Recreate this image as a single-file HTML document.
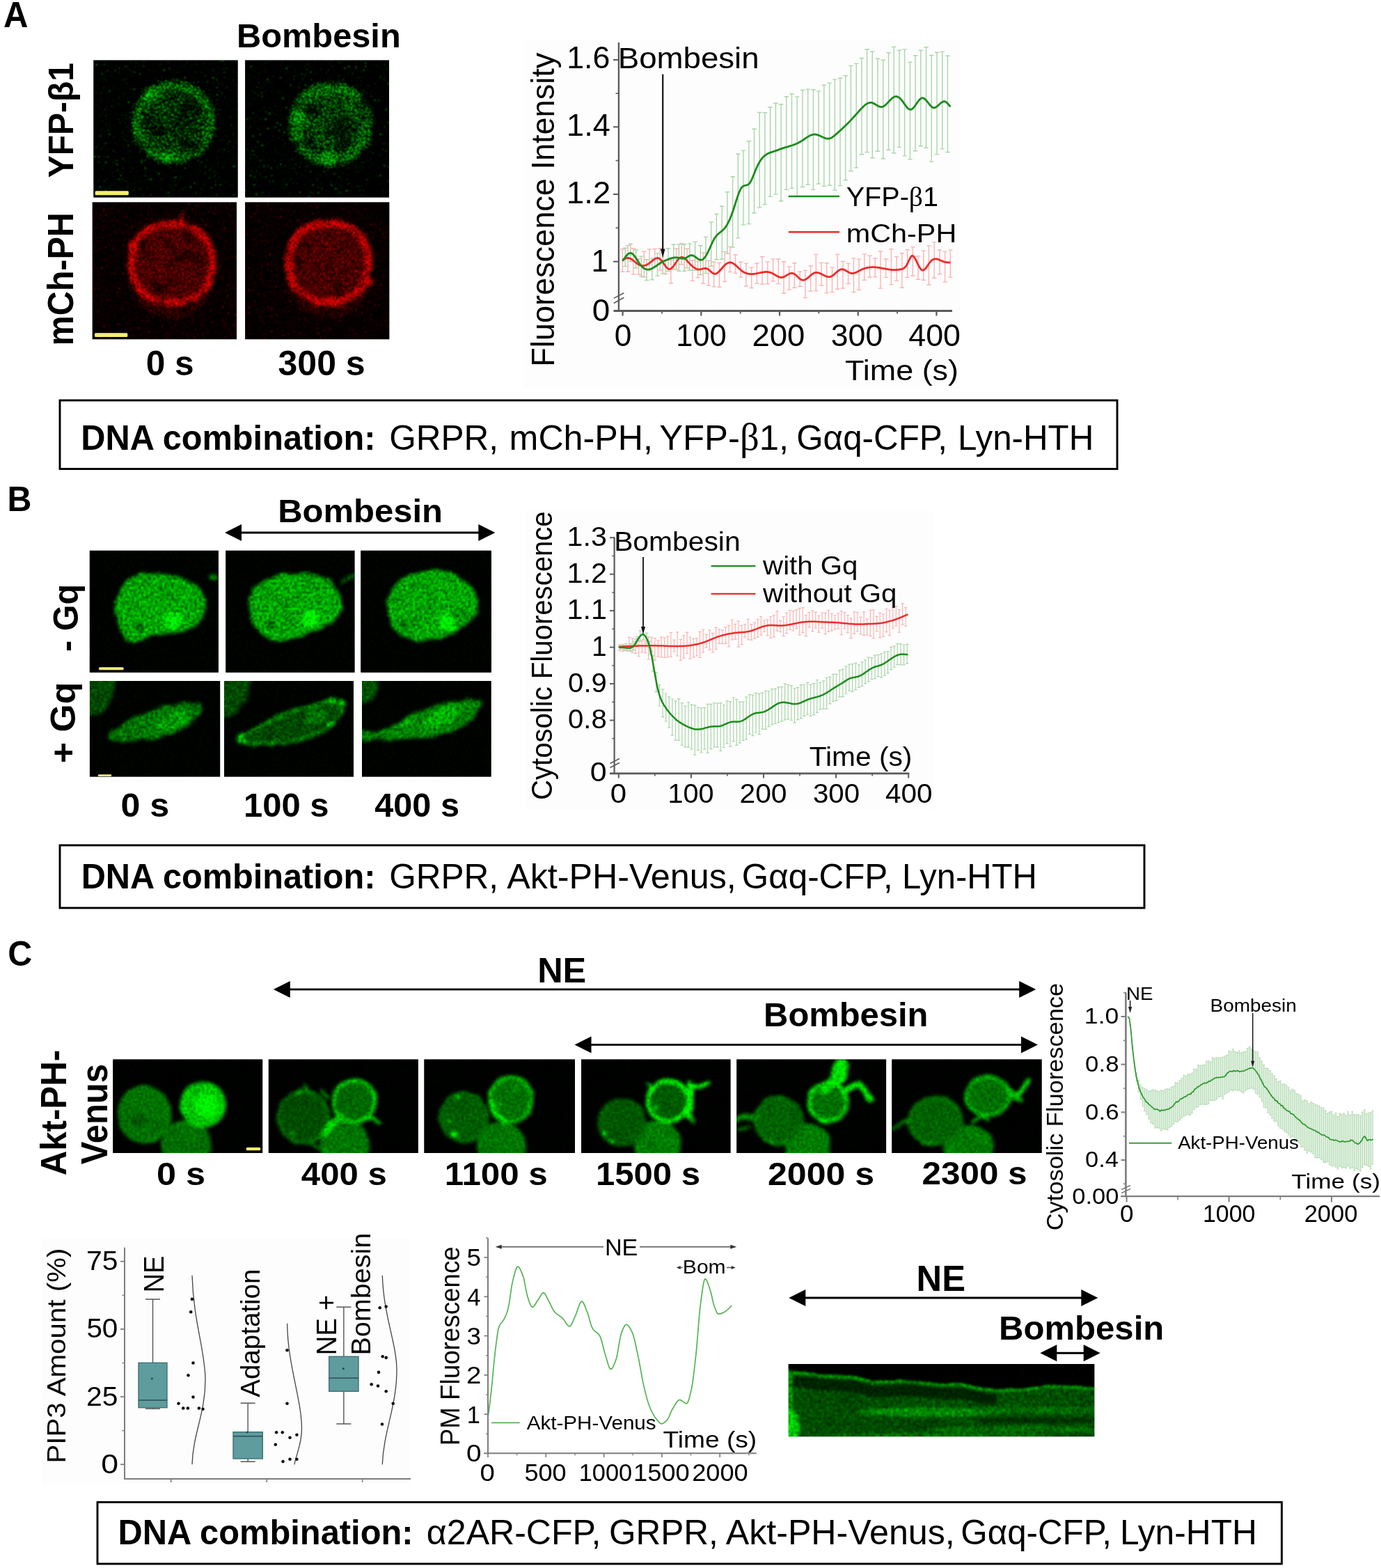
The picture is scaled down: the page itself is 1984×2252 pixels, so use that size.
<!DOCTYPE html>
<html lang="en"><head><meta charset="utf-8"><title>Figure</title>
<style>
html,body{margin:0;padding:0;background:#fff;}
body{width:1984px;height:2252px;overflow:hidden;font-family:"Liberation Sans",sans-serif;}
svg{display:block;}
text{white-space:pre;}
</style></head><body>
<svg width="1984" height="2252" viewBox="0 0 1984 2252">
<rect width="1984" height="2252" fill="#fff"/>
<!-- micro -->
<defs><filter id="fSpk" x="0" y="0" width="1" height="1" color-interpolation-filters="sRGB">
 <feGaussianBlur in="SourceGraphic" stdDeviation="5" result="b0"/>
 <feTurbulence type="fractalNoise" baseFrequency="0.035" numOctaves="2" seed="57" result="nl"/>
 <feColorMatrix in="nl" type="matrix" values="0.6 0 0 0 0.7  0.6 0 0 0 0.7  0.6 0 0 0 0.7  0 0 0 0 1" result="gl"/>
 <feComposite in="b0" in2="gl" operator="arithmetic" k1="1" k2="0" k3="0" k4="0" result="b"/>
 <feTurbulence type="fractalNoise" baseFrequency="0.45" numOctaves="2" seed="7" result="n"/>
 <feColorMatrix in="n" type="matrix" values="1.0 0 0 0 0.0  1.0 0 0 0 0.0  1.0 0 0 0 0.0  0 0 0 0 1" result="g"/>
 <feComposite in="b" in2="g" operator="arithmetic" k1="9" k2="0" k3="0" k4="-3.3" result="m"/>
 <feTurbulence type="fractalNoise" baseFrequency="0.37" numOctaves="1" seed="18" result="n2"/>
 <feColorMatrix in="n2" type="matrix" values="0 0 0 0 0  10 0 0 0 -6.9  0 0 0 0 0  0 0 0 0 1" result="d"/>
 <feComposite in="m" in2="d" operator="arithmetic" k1="0" k2="1" k3="1" k4="0"/>
 <feGaussianBlur stdDeviation="0.85"/>
</filter>
<filter id="fSpk2" x="0" y="0" width="1" height="1" color-interpolation-filters="sRGB">
 <feGaussianBlur in="SourceGraphic" stdDeviation="5" result="b0"/>
 <feTurbulence type="fractalNoise" baseFrequency="0.035" numOctaves="2" seed="73" result="nl"/>
 <feColorMatrix in="nl" type="matrix" values="0.6 0 0 0 0.7  0.6 0 0 0 0.7  0.6 0 0 0 0.7  0 0 0 0 1" result="gl"/>
 <feComposite in="b0" in2="gl" operator="arithmetic" k1="1" k2="0" k3="0" k4="0" result="b"/>
 <feTurbulence type="fractalNoise" baseFrequency="0.45" numOctaves="2" seed="23" result="n"/>
 <feColorMatrix in="n" type="matrix" values="1.0 0 0 0 0.0  1.0 0 0 0 0.0  1.0 0 0 0 0.0  0 0 0 0 1" result="g"/>
 <feComposite in="b" in2="g" operator="arithmetic" k1="9" k2="0" k3="0" k4="-3.3" result="m"/>
 <feTurbulence type="fractalNoise" baseFrequency="0.37" numOctaves="1" seed="34" result="n2"/>
 <feColorMatrix in="n2" type="matrix" values="0 0 0 0 0  10 0 0 0 -6.9  0 0 0 0 0  0 0 0 0 1" result="d"/>
 <feComposite in="m" in2="d" operator="arithmetic" k1="0" k2="1" k3="1" k4="0"/>
 <feGaussianBlur stdDeviation="0.85"/>
</filter>
<filter id="fRed" x="0" y="0" width="1" height="1" color-interpolation-filters="sRGB">
 <feGaussianBlur in="SourceGraphic" stdDeviation="2.6" result="b0"/>
 <feTurbulence type="fractalNoise" baseFrequency="0.05" numOctaves="2" seed="61" result="nl"/>
 <feColorMatrix in="nl" type="matrix" values="1.3 0 0 0 0.35  1.3 0 0 0 0.35  1.3 0 0 0 0.35  0 0 0 0 1" result="gl"/>
 <feComposite in="b0" in2="gl" operator="arithmetic" k1="1" k2="0" k3="0" k4="0" result="b"/>
 <feTurbulence type="fractalNoise" baseFrequency="0.42" numOctaves="2" seed="11" result="n"/>
 <feColorMatrix in="n" type="matrix" values="2.0 0 0 0 -0.5  2.0 0 0 0 -0.5  2.0 0 0 0 -0.5  0 0 0 0 1" result="g"/>
 <feComposite in="b" in2="g" operator="arithmetic" k1="2.3" k2="0" k3="0" k4="-0.22" result="m"/>
 <feTurbulence type="fractalNoise" baseFrequency="0.37" numOctaves="1" seed="22" result="n2"/>
 <feColorMatrix in="n2" type="matrix" values="5 0 0 0 -3.3  0 0 0 0 0  0 0 0 0 0  0 0 0 0 1" result="d"/>
 <feComposite in="m" in2="d" operator="arithmetic" k1="0" k2="1" k3="1" k4="0"/>
 <feGaussianBlur stdDeviation="0.8"/>
</filter>
<filter id="fRed2" x="0" y="0" width="1" height="1" color-interpolation-filters="sRGB">
 <feGaussianBlur in="SourceGraphic" stdDeviation="2.6" result="b0"/>
 <feTurbulence type="fractalNoise" baseFrequency="0.05" numOctaves="2" seed="81" result="nl"/>
 <feColorMatrix in="nl" type="matrix" values="1.3 0 0 0 0.35  1.3 0 0 0 0.35  1.3 0 0 0 0.35  0 0 0 0 1" result="gl"/>
 <feComposite in="b0" in2="gl" operator="arithmetic" k1="1" k2="0" k3="0" k4="0" result="b"/>
 <feTurbulence type="fractalNoise" baseFrequency="0.42" numOctaves="2" seed="31" result="n"/>
 <feColorMatrix in="n" type="matrix" values="2.0 0 0 0 -0.5  2.0 0 0 0 -0.5  2.0 0 0 0 -0.5  0 0 0 0 1" result="g"/>
 <feComposite in="b" in2="g" operator="arithmetic" k1="2.3" k2="0" k3="0" k4="-0.22" result="m"/>
 <feTurbulence type="fractalNoise" baseFrequency="0.37" numOctaves="1" seed="42" result="n2"/>
 <feColorMatrix in="n2" type="matrix" values="5 0 0 0 -3.3  0 0 0 0 0  0 0 0 0 0  0 0 0 0 1" result="d"/>
 <feComposite in="m" in2="d" operator="arithmetic" k1="0" k2="1" k3="1" k4="0"/>
 <feGaussianBlur stdDeviation="0.8"/>
</filter>
<filter id="fB1" x="0" y="0" width="1" height="1" color-interpolation-filters="sRGB">
 <feTurbulence type="fractalNoise" baseFrequency="0.07" numOctaves="2" seed="6" result="dn"/>
 <feDisplacementMap in="SourceGraphic" in2="dn" scale="8" xChannelSelector="R" yChannelSelector="G" result="dsp"/>
 <feGaussianBlur in="dsp" stdDeviation="2.2" result="b0"/>
 <feTurbulence type="fractalNoise" baseFrequency="0.04" numOctaves="2" seed="53" result="nl"/>
 <feColorMatrix in="nl" type="matrix" values="0.5 0 0 0 0.75  0.5 0 0 0 0.75  0.5 0 0 0 0.75  0 0 0 0 1" result="gl"/>
 <feComposite in="b0" in2="gl" operator="arithmetic" k1="1" k2="0" k3="0" k4="0" result="b"/>
 <feTurbulence type="fractalNoise" baseFrequency="0.3" numOctaves="2" seed="3" result="n"/>
 <feColorMatrix in="n" type="matrix" values="1.0 0 0 0 0.0  1.0 0 0 0 0.0  1.0 0 0 0 0.0  0 0 0 0 1" result="g"/>
 <feComposite in="b" in2="g" operator="arithmetic" k1="2.5" k2="-0.12" k3="0" k4="-0.05"/>
 <feGaussianBlur stdDeviation="0.8"/>
</filter>
<filter id="fB2" x="0" y="0" width="1" height="1" color-interpolation-filters="sRGB">
 <feTurbulence type="fractalNoise" baseFrequency="0.07" numOctaves="2" seed="8" result="dn"/>
 <feDisplacementMap in="SourceGraphic" in2="dn" scale="8" xChannelSelector="R" yChannelSelector="G" result="dsp"/>
 <feGaussianBlur in="dsp" stdDeviation="2.2" result="b0"/>
 <feTurbulence type="fractalNoise" baseFrequency="0.04" numOctaves="2" seed="55" result="nl"/>
 <feColorMatrix in="nl" type="matrix" values="0.5 0 0 0 0.75  0.5 0 0 0 0.75  0.5 0 0 0 0.75  0 0 0 0 1" result="gl"/>
 <feComposite in="b0" in2="gl" operator="arithmetic" k1="1" k2="0" k3="0" k4="0" result="b"/>
 <feTurbulence type="fractalNoise" baseFrequency="0.3" numOctaves="2" seed="5" result="n"/>
 <feColorMatrix in="n" type="matrix" values="1.0 0 0 0 0.0  1.0 0 0 0 0.0  1.0 0 0 0 0.0  0 0 0 0 1" result="g"/>
 <feComposite in="b" in2="g" operator="arithmetic" k1="2.5" k2="-0.12" k3="0" k4="-0.05"/>
 <feGaussianBlur stdDeviation="0.8"/>
</filter>
<filter id="fB3" x="0" y="0" width="1" height="1" color-interpolation-filters="sRGB">
 <feTurbulence type="fractalNoise" baseFrequency="0.07" numOctaves="2" seed="12" result="dn"/>
 <feDisplacementMap in="SourceGraphic" in2="dn" scale="8" xChannelSelector="R" yChannelSelector="G" result="dsp"/>
 <feGaussianBlur in="dsp" stdDeviation="2.2" result="b0"/>
 <feTurbulence type="fractalNoise" baseFrequency="0.04" numOctaves="2" seed="59" result="nl"/>
 <feColorMatrix in="nl" type="matrix" values="0.5 0 0 0 0.75  0.5 0 0 0 0.75  0.5 0 0 0 0.75  0 0 0 0 1" result="gl"/>
 <feComposite in="b0" in2="gl" operator="arithmetic" k1="1" k2="0" k3="0" k4="0" result="b"/>
 <feTurbulence type="fractalNoise" baseFrequency="0.3" numOctaves="2" seed="9" result="n"/>
 <feColorMatrix in="n" type="matrix" values="1.0 0 0 0 0.0  1.0 0 0 0 0.0  1.0 0 0 0 0.0  0 0 0 0 1" result="g"/>
 <feComposite in="b" in2="g" operator="arithmetic" k1="2.5" k2="-0.12" k3="0" k4="-0.05"/>
 <feGaussianBlur stdDeviation="0.8"/>
</filter>
<filter id="fC1" x="0" y="0" width="1" height="1" color-interpolation-filters="sRGB">
 <feTurbulence type="fractalNoise" baseFrequency="0.07" numOctaves="2" seed="16" result="dn"/>
 <feDisplacementMap in="SourceGraphic" in2="dn" scale="5" xChannelSelector="R" yChannelSelector="G" result="dsp"/>
 <feGaussianBlur in="dsp" stdDeviation="2.0" result="b0"/>
 <feTurbulence type="fractalNoise" baseFrequency="0.03" numOctaves="2" seed="63" result="nl"/>
 <feColorMatrix in="nl" type="matrix" values="0.35 0 0 0 0.825  0.35 0 0 0 0.825  0.35 0 0 0 0.825  0 0 0 0 1" result="gl"/>
 <feComposite in="b0" in2="gl" operator="arithmetic" k1="1" k2="0" k3="0" k4="0" result="b"/>
 <feTurbulence type="fractalNoise" baseFrequency="0.33" numOctaves="2" seed="13" result="n"/>
 <feColorMatrix in="n" type="matrix" values="1.0 0 0 0 0.0  1.0 0 0 0 0.0  1.0 0 0 0 0.0  0 0 0 0 1" result="g"/>
 <feComposite in="b" in2="g" operator="arithmetic" k1="1.5" k2="0.33" k3="0" k4="-0.05"/>
 <feGaussianBlur stdDeviation="0.9"/>
</filter>
<filter id="fC2" x="0" y="0" width="1" height="1" color-interpolation-filters="sRGB">
 <feTurbulence type="fractalNoise" baseFrequency="0.07" numOctaves="2" seed="20" result="dn"/>
 <feDisplacementMap in="SourceGraphic" in2="dn" scale="5" xChannelSelector="R" yChannelSelector="G" result="dsp"/>
 <feGaussianBlur in="dsp" stdDeviation="2.0" result="b0"/>
 <feTurbulence type="fractalNoise" baseFrequency="0.03" numOctaves="2" seed="67" result="nl"/>
 <feColorMatrix in="nl" type="matrix" values="0.35 0 0 0 0.825  0.35 0 0 0 0.825  0.35 0 0 0 0.825  0 0 0 0 1" result="gl"/>
 <feComposite in="b0" in2="gl" operator="arithmetic" k1="1" k2="0" k3="0" k4="0" result="b"/>
 <feTurbulence type="fractalNoise" baseFrequency="0.33" numOctaves="2" seed="17" result="n"/>
 <feColorMatrix in="n" type="matrix" values="1.0 0 0 0 0.0  1.0 0 0 0 0.0  1.0 0 0 0 0.0  0 0 0 0 1" result="g"/>
 <feComposite in="b" in2="g" operator="arithmetic" k1="1.5" k2="0.33" k3="0" k4="-0.05"/>
 <feGaussianBlur stdDeviation="0.9"/>
</filter>
<filter id="fC3" x="0" y="0" width="1" height="1" color-interpolation-filters="sRGB">
 <feTurbulence type="fractalNoise" baseFrequency="0.07" numOctaves="2" seed="22" result="dn"/>
 <feDisplacementMap in="SourceGraphic" in2="dn" scale="5" xChannelSelector="R" yChannelSelector="G" result="dsp"/>
 <feGaussianBlur in="dsp" stdDeviation="2.0" result="b0"/>
 <feTurbulence type="fractalNoise" baseFrequency="0.03" numOctaves="2" seed="69" result="nl"/>
 <feColorMatrix in="nl" type="matrix" values="0.35 0 0 0 0.825  0.35 0 0 0 0.825  0.35 0 0 0 0.825  0 0 0 0 1" result="gl"/>
 <feComposite in="b0" in2="gl" operator="arithmetic" k1="1" k2="0" k3="0" k4="0" result="b"/>
 <feTurbulence type="fractalNoise" baseFrequency="0.33" numOctaves="2" seed="19" result="n"/>
 <feColorMatrix in="n" type="matrix" values="1.0 0 0 0 0.0  1.0 0 0 0 0.0  1.0 0 0 0 0.0  0 0 0 0 1" result="g"/>
 <feComposite in="b" in2="g" operator="arithmetic" k1="1.5" k2="0.33" k3="0" k4="-0.05"/>
 <feGaussianBlur stdDeviation="0.9"/>
</filter>
<filter id="fK" x="0" y="0" width="1" height="1" color-interpolation-filters="sRGB">
 <feTurbulence type="fractalNoise" baseFrequency="0.05" numOctaves="2" seed="32" result="dn"/>
 <feDisplacementMap in="SourceGraphic" in2="dn" scale="3" xChannelSelector="R" yChannelSelector="G" result="dsp"/>
 <feGaussianBlur in="dsp" stdDeviation="1.8" result="b0"/>
 <feTurbulence type="fractalNoise" baseFrequency="0.025" numOctaves="2" seed="79" result="nl"/>
 <feColorMatrix in="nl" type="matrix" values="0.5 0 0 0 0.75  0.5 0 0 0 0.75  0.5 0 0 0 0.75  0 0 0 0 1" result="gl"/>
 <feComposite in="b0" in2="gl" operator="arithmetic" k1="1" k2="0" k3="0" k4="0" result="b"/>
 <feTurbulence type="fractalNoise" baseFrequency="0.25" numOctaves="2" seed="29" result="n"/>
 <feColorMatrix in="n" type="matrix" values="1.0 0 0 0 0.0  1.0 0 0 0 0.0  1.0 0 0 0 0.0  0 0 0 0 1" result="g"/>
 <feComposite in="b" in2="g" operator="arithmetic" k1="1.7" k2="0.2" k3="0" k4="-0.04"/>
 <feGaussianBlur stdDeviation="0.8"/>
</filter></defs>
<svg x="134.4" y="86.6" width="207.2" height="197.0" viewBox="134.4 86.6 207.2 197.0" overflow="hidden"><rect x="134.4" y="86.6" width="207.2" height="197.0" fill="#000"/><g filter="url(#fSpk)"><rect x="114.4" y="66.6" width="247.2" height="237.0" fill="rgb(0,102,0)"/><circle cx="249.5" cy="176" r="63" fill="rgb(0,178,0)" /><ellipse cx="249.5" cy="176" rx="54" ry="54" fill="none" stroke="rgb(0,204,0)" stroke-width="14" opacity="1"/><circle cx="262" cy="182" r="20" fill="rgb(0,168,0)" /><circle cx="240" cy="228" r="9" fill="rgb(0,242,0)" /><circle cx="215" cy="135" r="10" fill="rgb(0,230,0)" /></g></svg>
<svg x="352.2" y="86.6" width="206.8" height="197.0" viewBox="352.2 86.6 206.8 197.0" overflow="hidden"><rect x="352.2" y="86.6" width="206.8" height="197.0" fill="#000"/><g filter="url(#fSpk2)"><rect x="332.2" y="66.6" width="246.8" height="237.0" fill="rgb(0,102,0)"/><circle cx="475.5" cy="178" r="63" fill="rgb(0,181,0)" /><ellipse cx="475.5" cy="178" rx="54" ry="54" fill="none" stroke="rgb(0,207,0)" stroke-width="15" opacity="1"/><circle cx="489" cy="186" r="19" fill="rgb(0,158,0)" /><circle cx="470" cy="228" r="10" fill="rgb(0,235,0)" /><circle cx="430" cy="165" r="10" fill="rgb(0,230,0)" /></g></svg>
<rect x="136.6" y="274.3" width="48.2" height="6.0" rx="1.5" fill="#f4ee6e"/>
<svg x="132.7" y="290.5" width="207.3" height="196.8" viewBox="132.7 290.5 207.3 196.8" overflow="hidden"><rect x="132.7" y="290.5" width="207.3" height="196.8" fill="#000"/><g filter="url(#fRed)"><rect x="112.69999999999999" y="270.5" width="247.3" height="236.8" fill="rgb(43,0,0)"/><ellipse cx="247" cy="392" rx="62" ry="66" fill="rgb(76,0,0)" /><path d="M305.0,378.0 C305.0,392.6 306.9,386.2 301.8,399.9 C296.6,413.6 300.3,408.8 289.6,419.2 C278.9,429.5 283.9,425.9 269.7,430.9 C255.5,435.8 262.1,434.0 247.0,434.0 C231.9,434.0 238.5,435.8 224.3,430.9 C210.1,425.9 215.1,429.5 204.4,419.2 C193.7,408.8 197.4,413.6 192.2,399.9 C187.1,386.2 189.0,392.6 189.0,378.0 C189.0,363.4 187.1,369.8 192.2,356.1 C197.4,342.4 193.7,347.2 204.4,336.8 C215.1,326.5 210.1,330.1 224.3,325.1 C238.5,320.2 231.9,322.0 247.0,322.0 C262.1,322.0 255.5,320.2 269.7,325.1 C283.9,330.1 278.9,326.5 289.6,336.8 C300.3,347.2 296.6,342.4 301.8,356.1 C306.9,369.8 305.0,363.4 305.0,378.0Z" fill="rgb(107,0,0)" stroke="rgb(235,0,0)" stroke-width="9.5"/><path d="M258,322 L262,306" fill="none" stroke="rgb(204,0,0)" stroke-width="5" stroke-linecap="round" stroke-linejoin="round"/><path d="M188,350 L190,395" fill="none" stroke="rgb(255,0,0)" stroke-width="6" stroke-linecap="round" stroke-linejoin="round"/><path d="M225,434 L260,436" fill="none" stroke="rgb(255,0,0)" stroke-width="6" stroke-linecap="round" stroke-linejoin="round"/></g></svg>
<svg x="352.2" y="290.5" width="207.1" height="196.8" viewBox="352.2 290.5 207.1 196.8" overflow="hidden"><rect x="352.2" y="290.5" width="207.1" height="196.8" fill="#000"/><g filter="url(#fRed2)"><rect x="332.2" y="270.5" width="247.1" height="236.8" fill="rgb(43,0,0)"/><ellipse cx="472" cy="392" rx="62" ry="66" fill="rgb(76,0,0)" /><path d="M529.0,377.0 C529.0,391.6 530.9,385.2 525.8,398.9 C520.8,412.6 524.4,407.8 513.9,418.2 C503.4,428.5 508.3,424.9 494.3,429.9 C480.3,434.8 486.9,433.0 472.0,433.0 C457.1,433.0 463.7,434.8 449.7,429.9 C435.7,424.9 440.6,428.5 430.1,418.2 C419.6,407.8 423.2,412.6 418.2,398.9 C413.1,385.2 415.0,391.6 415.0,377.0 C415.0,362.4 413.1,368.8 418.2,355.1 C423.2,341.4 419.6,346.2 430.1,335.8 C440.6,325.5 435.7,329.1 449.7,324.1 C463.7,319.2 457.1,321.0 472.0,321.0 C486.9,321.0 480.3,319.2 494.3,324.1 C508.3,329.1 503.4,325.5 513.9,335.8 C524.4,346.2 520.8,341.4 525.8,355.1 C530.9,368.8 529.0,362.4 529.0,377.0Z" fill="rgb(107,0,0)" stroke="rgb(235,0,0)" stroke-width="10.5"/><path d="M413,365 L416,400" fill="none" stroke="rgb(255,0,0)" stroke-width="7" stroke-linecap="round" stroke-linejoin="round"/><path d="M455,435 L490,436" fill="none" stroke="rgb(255,0,0)" stroke-width="7" stroke-linecap="round" stroke-linejoin="round"/><path d="M470,319 L500,326" fill="none" stroke="rgb(255,0,0)" stroke-width="6" stroke-linecap="round" stroke-linejoin="round"/><circle cx="530" cy="404" r="6" fill="rgb(255,0,0)" /></g></svg>
<rect x="136" y="478.3" width="47.3" height="5.7" rx="1.5" fill="#f4ee6e"/>
<svg x="128.8" y="790.7" width="185.0" height="175.1" viewBox="128.8 790.7 185.0 175.1" overflow="hidden"><rect x="128.8" y="790.7" width="185.0" height="175.1" fill="#000"/><g filter="url(#fB1)"><rect x="108.80000000000001" y="770.7" width="225.0" height="215.1" fill="rgb(0,13,0)"/><path d="M166.6,873.5 C166.6,860.3 165.3,866.9 169.8,854.7 C174.3,842.5 170.5,846.7 180.2,837.0 C189.9,827.3 185.1,830.0 199.0,825.5 C212.9,821.0 205.7,823.1 222.0,823.4 C238.3,823.7 230.6,822.7 248.0,826.5 C265.4,830.3 260.5,827.6 274.1,834.9 C287.7,842.2 281.7,839.1 288.7,848.5 C295.7,857.9 293.9,851.9 295.0,863.0 C296.1,874.1 295.4,871.4 291.9,881.9 C288.4,892.4 291.2,887.5 284.6,894.4 C278.0,901.3 282.4,898.2 272.0,902.7 C261.6,907.2 266.5,905.6 253.3,908.0 C240.1,910.4 246.3,907.6 232.4,910.0 C218.5,912.4 225.4,911.3 211.5,915.3 C197.6,919.3 202.1,922.7 190.6,922.0 C179.1,921.3 183.9,922.4 177.0,913.2 C170.1,904.0 173.3,907.6 169.8,894.4 C166.3,881.2 166.6,886.7 166.6,873.5Z" fill="rgb(0,158,0)"/><circle cx="248" cy="891.5" r="12" fill="rgb(0,255,0)" /><circle cx="200" cy="900" r="6" fill="rgb(0,89,0)" /><ellipse cx="306" cy="828.6" rx="6" ry="3.5" fill="rgb(0,153,0)" /></g></svg>
<svg x="324.3" y="790.7" width="185.2" height="175.1" viewBox="324.3 790.7 185.2 175.1" overflow="hidden"><rect x="324.3" y="790.7" width="185.2" height="175.1" fill="#000"/><g filter="url(#fB2)"><rect x="304.3" y="770.7" width="225.2" height="215.1" fill="rgb(0,13,0)"/><path d="M358.0,870.0 C357.0,854.2 356.3,861.0 362.0,850.0 C367.7,839.0 364.0,844.3 375.0,837.0 C386.0,829.7 380.0,832.4 395.0,828.0 C410.0,823.6 398.3,824.0 420.0,823.8 C441.7,823.6 439.2,820.4 460.0,827.5 C480.8,834.6 472.5,832.5 482.5,845.0 C492.5,857.5 488.5,853.3 490.0,865.0 C491.5,876.7 490.3,871.7 487.0,880.0 C483.7,888.3 487.0,883.3 480.0,890.0 C473.0,896.7 476.0,894.2 466.0,900.0 C456.0,905.8 461.3,902.8 450.0,907.5 C438.7,912.2 444.5,909.5 432.0,914.0 C419.5,918.5 424.8,919.0 412.5,921.0 C400.2,923.0 405.0,921.7 395.0,920.0 C385.0,918.3 392.5,923.5 382.5,916.0 C372.5,908.5 373.2,912.8 365.0,897.5 C356.8,882.2 359.0,885.8 358.0,870.0Z" fill="rgb(0,158,0)"/><circle cx="447.5" cy="890" r="12" fill="rgb(0,255,0)" /><circle cx="390" cy="897.5" r="6" fill="rgb(0,89,0)" /><path d="M489,837 L500,830 L510,826" fill="none" stroke="rgb(0,102,0)" stroke-width="4" stroke-linecap="round" stroke-linejoin="round"/></g></svg>
<svg x="518.3" y="790.7" width="187.5" height="175.1" viewBox="518.3 790.7 187.5 175.1" overflow="hidden"><rect x="518.3" y="790.7" width="187.5" height="175.1" fill="#000"/><g filter="url(#fB3)"><rect x="498.29999999999995" y="770.7" width="227.5" height="215.1" fill="rgb(0,13,0)"/><path d="M557.5,865.0 C558.5,855.0 556.8,859.0 561.0,850.0 C565.2,841.0 562.3,845.3 570.0,838.0 C577.7,830.7 574.0,833.2 584.0,828.0 C594.0,822.8 583.8,825.2 600.0,822.5 C616.2,819.8 610.8,816.7 632.5,820.0 C654.2,823.3 648.3,821.7 665.0,832.5 C681.7,843.3 675.8,838.3 682.5,852.5 C689.2,866.7 685.8,863.2 685.0,875.0 C684.2,886.8 685.0,880.5 680.0,888.0 C675.0,895.5 677.3,891.5 670.0,897.5 C662.7,903.5 666.3,901.0 658.0,906.0 C649.7,911.0 660.2,907.8 645.0,912.5 C629.8,917.2 634.2,919.2 612.5,920.0 C590.8,920.8 594.8,919.7 580.0,915.0 C565.2,910.3 573.8,912.7 568.0,906.0 C562.2,899.3 565.8,903.7 562.5,895.0 C559.2,886.3 559.7,890.0 558.0,880.0 C556.3,870.0 556.5,875.0 557.5,865.0Z" fill="rgb(0,158,0)"/><circle cx="642.5" cy="894" r="12" fill="rgb(0,250,0)" /><circle cx="578" cy="897" r="6" fill="rgb(0,97,0)" /></g></svg>
<rect x="142" y="958.2" width="35.7" height="4.0" rx="1.5" fill="#f4ee6e"/>
<svg x="128.9" y="978" width="187.3" height="137.6" viewBox="128.9 978 187.3 137.6" overflow="hidden"><rect x="128.9" y="978" width="187.3" height="137.6" fill="#000"/><g filter="url(#fB1)"><rect x="108.9" y="958" width="227.3" height="177.6" fill="rgb(0,13,0)"/><path d="M156.2,1057.3 C158.9,1052.0 162.6,1051.0 172.0,1044.0 C181.4,1037.0 177.4,1038.2 191.3,1031.1 C205.2,1024.0 206.6,1022.7 224.0,1017.3 C241.4,1011.9 240.9,1013.1 256.6,1010.7 C272.3,1008.3 274.0,1006.8 282.7,1008.3 C291.4,1009.8 289.6,1009.9 289.2,1016.4 C288.8,1022.9 287.6,1025.0 281.1,1032.8 C274.6,1040.6 275.7,1039.7 264.8,1045.8 C253.9,1051.9 253.4,1051.3 240.3,1055.6 C227.2,1059.9 231.1,1059.9 215.8,1062.1 C200.5,1064.3 197.5,1063.3 183.1,1063.8 C168.7,1064.3 169.1,1065.5 161.9,1063.8 C154.7,1062.1 153.5,1062.6 156.2,1057.3Z" fill="rgb(0,115,0)"/><ellipse cx="246" cy="1036" rx="26" ry="12" fill="rgb(0,158,0)" transform="rotate(-22 246 1036)" /><ellipse cx="128" cy="978" rx="37" ry="50" fill="rgb(0,76,0)" /></g></svg>
<svg x="322" y="978" width="186.0" height="137.6" viewBox="322 978 186.0 137.6" overflow="hidden"><rect x="322" y="978" width="186.0" height="137.6" fill="#000"/><g filter="url(#fB2)"><rect x="302" y="958" width="226.0" height="177.6" fill="rgb(0,13,0)"/><path d="M341.2,1059.3 C344.1,1054.9 347.3,1057.0 359.8,1050.6 C372.3,1044.2 373.6,1042.9 388.2,1035.3 C402.8,1027.7 398.6,1027.6 414.4,1022.1 C430.2,1016.6 431.0,1018.6 447.3,1014.5 C463.6,1010.4 463.5,1007.7 475.7,1006.8 C487.9,1005.9 490.3,1005.4 493.2,1011.2 C496.1,1017.0 493.0,1019.4 486.6,1028.7 C480.2,1038.0 479.6,1038.6 469.1,1046.2 C458.6,1053.8 460.1,1052.1 447.3,1057.1 C434.5,1062.1 438.5,1061.9 421.0,1064.8 C403.5,1067.7 400.9,1067.5 381.6,1068.1 C362.3,1068.7 359.6,1069.3 348.8,1067.0 C338.0,1064.7 338.3,1063.7 341.2,1059.3Z" fill="rgb(0,76,0)" stroke="rgb(0,158,0)" stroke-width="3.5"/><ellipse cx="452" cy="1030" rx="18" ry="10" fill="rgb(0,115,0)" transform="rotate(-22 452 1030)" /><circle cx="347" cy="1061" r="5" fill="rgb(0,178,0)" /><circle cx="478" cy="1008" r="4" fill="rgb(0,204,0)" /><circle cx="490" cy="1012" r="3.5" fill="rgb(0,204,0)" /><circle cx="474" cy="1040" r="4" fill="rgb(0,204,0)" /><ellipse cx="322" cy="978" rx="38" ry="52" fill="rgb(0,76,0)" /></g></svg>
<svg x="520" y="978" width="185.6" height="137.6" viewBox="520 978 185.6 137.6" overflow="hidden"><rect x="520" y="978" width="185.6" height="137.6" fill="#000"/><g filter="url(#fB3)"><rect x="500" y="958" width="225.6" height="177.6" fill="rgb(0,13,0)"/><path d="M512.0,1050.6 C521.0,1047.4 528.0,1055.3 545.7,1050.6 C563.4,1045.9 561.0,1041.8 578.5,1033.1 C596.0,1024.4 593.8,1024.2 611.3,1017.8 C628.8,1011.4 624.4,1012.5 644.2,1009.0 C664.0,1005.5 672.9,1004.0 685.7,1004.6 C698.5,1005.2 692.9,1005.4 692.3,1011.2 C691.7,1017.0 690.5,1018.3 683.5,1026.5 C676.5,1034.7 679.4,1034.2 666.0,1041.8 C652.6,1049.4 653.6,1049.6 633.2,1054.9 C612.8,1060.2 612.8,1059.7 589.5,1061.5 C566.2,1063.3 566.4,1061.2 545.7,1061.5 C525.0,1061.8 521.0,1065.5 512.0,1062.6 C503.0,1059.7 503.0,1053.8 512.0,1050.6Z" fill="rgb(0,128,0)"/><ellipse cx="632" cy="1030" rx="30" ry="11" fill="rgb(0,168,0)" transform="rotate(-22 632 1030)" /><ellipse cx="585" cy="1036" rx="12" ry="6" fill="rgb(0,158,0)" transform="rotate(-25 585 1036)" /><ellipse cx="520" cy="976" rx="25" ry="34" fill="rgb(0,84,0)" /></g></svg>
<rect x="140.7" y="1112.3" width="19.6" height="2.7" rx="1.5" fill="#f4ee6e"/>
<!-- micro2 -->
<svg x="162.3" y="1521.6" width="214.9" height="134.5" viewBox="162.3 1521.6 214.9 134.5" overflow="hidden"><rect x="162.3" y="1521.6" width="214.9" height="134.5" fill="#000"/><g filter="url(#fC1)"><rect x="142.3" y="1501.6" width="254.9" height="174.5" fill="rgb(0,13,0)"/><circle cx="267.4" cy="1643.5" r="36" fill="rgb(0,117,0)" /><ellipse cx="207.4" cy="1600.7" rx="38.5" ry="41.5" fill="rgb(0,117,0)" /><ellipse cx="207.4" cy="1600.7" rx="36" ry="39" fill="none" stroke="rgb(0,140,0)" stroke-width="4" opacity="0.6"/><circle cx="200" cy="1610" r="10" fill="rgb(0,92,0)" /><circle cx="291.7" cy="1586.6" r="33" fill="rgb(0,199,0)" /><circle cx="296" cy="1589" r="17" fill="rgb(0,250,0)" /></g></svg>
<rect x="353.7" y="1648" width="20.5" height="4.3" rx="1.5" fill="#f4ee6e"/>
<svg x="385.8" y="1521.6" width="214.9" height="134.5" viewBox="385.8 1521.6 214.9 134.5" overflow="hidden"><rect x="385.8" y="1521.6" width="214.9" height="134.5" fill="#000"/><g filter="url(#fC2)"><rect x="365.8" y="1501.6" width="254.9" height="174.5" fill="rgb(0,13,0)"/><circle cx="494.7" cy="1643.5" r="36" fill="rgb(0,120,0)" /><ellipse cx="436" cy="1604.5" rx="38" ry="39" fill="rgb(0,82,0)" /><ellipse cx="436" cy="1604.5" rx="36" ry="37.5" fill="none" stroke="rgb(0,128,0)" stroke-width="3.5" opacity="1"/><circle cx="508.8" cy="1581.5" r="30" fill="rgb(0,107,0)" /><ellipse cx="508.8" cy="1581.5" rx="30" ry="30" fill="none" stroke="rgb(0,217,0)" stroke-width="5" opacity="1"/><path d="M466,1628 L476,1614 L490,1604" fill="none" stroke="rgb(0,217,0)" stroke-width="10" stroke-linecap="round" stroke-linejoin="round"/><path d="M520,1606 L535,1606 L545,1613" fill="none" stroke="rgb(0,217,0)" stroke-width="4.5" stroke-linecap="round" stroke-linejoin="round"/><path d="M438,1558 L446,1572" fill="none" stroke="rgb(0,140,0)" stroke-width="4" stroke-linecap="round" stroke-linejoin="round"/><path d="M462,1566 L470,1576" fill="none" stroke="rgb(0,153,0)" stroke-width="4.5" stroke-linecap="round" stroke-linejoin="round"/><path d="M445,1640 L460,1650 L475,1655" fill="none" stroke="rgb(0,140,0)" stroke-width="4" stroke-linecap="round" stroke-linejoin="round"/><circle cx="430" cy="1570" r="2.5" fill="rgb(0,230,0)" /><circle cx="420" cy="1628" r="2.5" fill="rgb(0,230,0)" /><circle cx="455" cy="1634" r="2" fill="rgb(0,178,0)" /></g></svg>
<svg x="609.4" y="1521.6" width="216.6" height="134.5" viewBox="609.4 1521.6 216.6 134.5" overflow="hidden"><rect x="609.4" y="1521.6" width="216.6" height="134.5" fill="#000"/><g filter="url(#fC3)"><rect x="589.4" y="1501.6" width="256.6" height="174.5" fill="rgb(0,13,0)"/><circle cx="720" cy="1645.4" r="35" fill="rgb(0,122,0)" /><ellipse cx="666.4" cy="1604.5" rx="36" ry="37" fill="rgb(0,97,0)" /><ellipse cx="666.4" cy="1604.5" rx="34" ry="35" fill="none" stroke="rgb(0,122,0)" stroke-width="3" opacity="1"/><ellipse cx="734" cy="1579" rx="30" ry="32" fill="rgb(0,115,0)" /><ellipse cx="734" cy="1579" rx="30" ry="32" fill="none" stroke="rgb(0,199,0)" stroke-width="5" opacity="1"/><path d="M704,1582 L712,1600 L726,1612" fill="none" stroke="rgb(0,217,0)" stroke-width="7" stroke-linecap="round" stroke-linejoin="round"/><circle cx="657.5" cy="1576.4" r="3" fill="rgb(0,230,0)" /><circle cx="652.4" cy="1629" r="4.5" fill="rgb(0,255,0)" /><circle cx="718" cy="1586" r="3" fill="rgb(0,217,0)" /><circle cx="740" cy="1562" r="2.5" fill="rgb(0,204,0)" /><circle cx="645" cy="1610" r="2.5" fill="rgb(0,178,0)" /></g></svg>
<svg x="835" y="1521.6" width="214.5" height="134.5" viewBox="835 1521.6 214.5 134.5" overflow="hidden"><rect x="835" y="1521.6" width="214.5" height="134.5" fill="#000"/><g filter="url(#fC1)"><rect x="815" y="1501.6" width="254.5" height="174.5" fill="rgb(0,13,0)"/><circle cx="944.8" cy="1643.5" r="34" fill="rgb(0,128,0)" /><ellipse cx="893.7" cy="1612" rx="34.5" ry="35" fill="rgb(0,92,0)" /><ellipse cx="893.7" cy="1612" rx="32" ry="33" fill="none" stroke="rgb(0,107,0)" stroke-width="3" opacity="1"/><ellipse cx="960" cy="1581.5" rx="29" ry="28" fill="rgb(0,97,0)" /><ellipse cx="960" cy="1581.5" rx="29.5" ry="28.5" fill="none" stroke="rgb(0,250,0)" stroke-width="6" opacity="1"/><path d="M991,1557 L993,1580 L990,1605" fill="none" stroke="rgb(0,255,0)" stroke-width="7" stroke-linecap="round" stroke-linejoin="round"/><path d="M992,1562 L1006,1559 L1018,1556" fill="none" stroke="rgb(0,255,0)" stroke-width="5.5" stroke-linecap="round" stroke-linejoin="round"/><path d="M990,1600 L996,1612" fill="none" stroke="rgb(0,230,0)" stroke-width="4" stroke-linecap="round" stroke-linejoin="round"/><path d="M931,1557 L938,1560" fill="none" stroke="rgb(0,230,0)" stroke-width="4" stroke-linecap="round" stroke-linejoin="round"/><circle cx="868" cy="1627.5" r="3" fill="rgb(0,230,0)" /><circle cx="878.4" cy="1639" r="3.5" fill="rgb(0,230,0)" /><circle cx="942" cy="1591" r="3" fill="rgb(0,217,0)" /></g></svg>
<svg x="1058.3" y="1521.6" width="214.8" height="134.5" viewBox="1058.3 1521.6 214.8 134.5" overflow="hidden"><rect x="1058.3" y="1521.6" width="214.8" height="134.5" fill="#000"/><g filter="url(#fC2)"><rect x="1038.3" y="1501.6" width="254.8" height="174.5" fill="rgb(0,13,0)"/><circle cx="1160" cy="1646" r="33" fill="rgb(0,128,0)" /><ellipse cx="1119" cy="1609.6" rx="36" ry="36" fill="rgb(0,102,0)" /><ellipse cx="1119" cy="1609.6" rx="33" ry="34" fill="none" stroke="rgb(0,128,0)" stroke-width="3" opacity="1"/><path d="M1058,1607 L1072,1603 L1086,1605" fill="none" stroke="rgb(0,140,0)" stroke-width="9" stroke-linecap="round" stroke-linejoin="round"/><path d="M1060,1622 L1075,1618" fill="none" stroke="rgb(0,115,0)" stroke-width="4" stroke-linecap="round" stroke-linejoin="round"/><circle cx="1189.3" cy="1582.8" r="27" fill="rgb(0,115,0)" /><ellipse cx="1189.3" cy="1582.8" rx="27" ry="27" fill="none" stroke="rgb(0,217,0)" stroke-width="6" opacity="1"/><ellipse cx="1206" cy="1540" rx="12" ry="20" fill="rgb(0,230,0)" transform="rotate(15 1206 1540)" /><path d="M1183,1566 L1200,1548" fill="none" stroke="rgb(0,224,0)" stroke-width="12" stroke-linecap="round" stroke-linejoin="round"/><path d="M1212,1568 L1232,1557 L1242,1566 L1250,1578" fill="none" stroke="rgb(0,235,0)" stroke-width="8.5" stroke-linecap="round" stroke-linejoin="round"/><path d="M1180,1608 L1188,1612" fill="none" stroke="rgb(0,242,0)" stroke-width="6" stroke-linecap="round" stroke-linejoin="round"/><circle cx="1108" cy="1641" r="3" fill="rgb(0,217,0)" /><circle cx="1125" cy="1640" r="2.5" fill="rgb(0,191,0)" /></g></svg>
<svg x="1281.3" y="1521.6" width="215.3" height="134.5" viewBox="1281.3 1521.6 215.3 134.5" overflow="hidden"><rect x="1281.3" y="1521.6" width="215.3" height="134.5" fill="#000"/><g filter="url(#fC3)"><rect x="1261.3" y="1501.6" width="255.3" height="174.5" fill="rgb(0,13,0)"/><ellipse cx="1392" cy="1648" rx="36" ry="32" fill="rgb(0,128,0)" /><ellipse cx="1343.8" cy="1609.6" rx="40" ry="36" fill="rgb(0,102,0)" /><ellipse cx="1343.8" cy="1609.6" rx="37.5" ry="33.5" fill="none" stroke="rgb(0,128,0)" stroke-width="3" opacity="1"/><path d="M1283,1622 L1295,1612 L1306,1610" fill="none" stroke="rgb(0,140,0)" stroke-width="4" stroke-linecap="round" stroke-linejoin="round"/><ellipse cx="1419.2" cy="1573.9" rx="31" ry="27.5" fill="rgb(0,115,0)" /><ellipse cx="1419.2" cy="1573.9" rx="31" ry="27.5" fill="none" stroke="rgb(0,184,0)" stroke-width="5" opacity="1"/><path d="M1450,1566 L1462,1572 L1472,1562 L1477,1550" fill="none" stroke="rgb(0,230,0)" stroke-width="6" stroke-linecap="round" stroke-linejoin="round"/><path d="M1452,1575 L1466,1580" fill="none" stroke="rgb(0,217,0)" stroke-width="5" stroke-linecap="round" stroke-linejoin="round"/><path d="M1396,1612 L1410,1604 L1420,1608" fill="none" stroke="rgb(0,191,0)" stroke-width="4" stroke-linecap="round" stroke-linejoin="round"/><path d="M1325,1642 L1340,1641" fill="none" stroke="rgb(0,166,0)" stroke-width="4" stroke-linecap="round" stroke-linejoin="round"/></g></svg>
<svg x="1132.7" y="1959" width="439.6" height="104.3" viewBox="1132.7 1959 439.6 104.3" overflow="hidden"><rect x="1132.7" y="1959" width="439.6" height="104.3" fill="#000"/><g filter="url(#fK)"><rect x="1112.7" y="1939" width="479.6" height="144.3" fill="rgb(0,10,0)"/><path d="M1130,1969 L1150,1971 L1176,1975.5 L1227,1978 L1252.7,1984.5 L1303.8,1984.5 L1355,1988.3 L1380.4,1988.3 L1406,1993.4 L1431.5,1997.3 L1469.8,1996 L1508,1990.9 L1533.7,1992 L1575,1994.7 L1575,2066 L1130,2066 Z" fill="rgb(0,84,0)"/><path d="M1130,1982 L1150,1984 L1176,1988.5 L1227,1991 L1252.7,1997.5 L1303.8,1997.5 L1355,2001.3 L1380.4,2001.3 L1406,2006.4 L1431.5,2010.3" fill="none" stroke="rgb(0,43,0)" stroke-width="16" stroke-linecap="butt" stroke-linejoin="round"/><path d="M1130,1969 L1150,1971 L1176,1975.5 L1227,1978 L1252.7,1984.5 L1303.8,1984.5 L1355,1988.3 L1380.4,1988.3 L1406,1993.4 L1431.5,1997.3 L1469.8,1996 L1508,1990.9 L1533.7,1992 L1575,1994.7" fill="none" stroke="rgb(0,217,0)" stroke-width="2.6" stroke-linecap="butt" stroke-linejoin="round"/><ellipse cx="1335.0" cy="2028" rx="105.0" ry="6.5" fill="rgb(0,153,0)" opacity="0.85"/><ellipse cx="1485.0" cy="2025" rx="105.0" ry="4.5" fill="rgb(0,128,0)" opacity="0.7"/><ellipse cx="1495.0" cy="2040" rx="95.0" ry="4.5" fill="rgb(0,51,0)" opacity="0.85"/><ellipse cx="1460.0" cy="2053" rx="130.0" ry="5.0" fill="rgb(0,128,0)" opacity="0.7"/><ellipse cx="1285.0" cy="2046" rx="115.0" ry="6.0" fill="rgb(0,71,0)" opacity="0.5"/><ellipse cx="1350.0" cy="2062" rx="170.0" ry="4.0" fill="rgb(0,128,0)" opacity="0.7"/><rect x="1128" y="1972" width="11" height="94" fill="rgb(0,178,0)" opacity="0.7"/><ellipse cx="1136" cy="2048" rx="13" ry="22" fill="rgb(0,230,0)" opacity="0.75"/></g></svg>
<!-- charts -->
<rect x="753.3" y="56.7" width="625.4" height="502.1" fill="#fdfdfd"/>
<path d="M894.4,357.7V390.4M891.2,357.7h6.4M891.2,390.4h6.4M902.1,352.7V390.3M898.9,352.7h6.4M898.9,390.3h6.4M909.8,356.8V393.9M906.6,356.8h6.4M906.6,393.9h6.4M917.6,371.8V394.0M914.4,371.8h6.4M914.4,394.0h6.4M925.3,361.2V398.0M922.1,361.2h6.4M922.1,398.0h6.4M933.0,358.0V387.5M929.8,358.0h6.4M929.8,387.5h6.4M940.7,357.5V383.3M937.5,357.5h6.4M937.5,383.3h6.4M948.4,356.7V388.1M945.2,356.7h6.4M945.2,388.1h6.4M956.2,373.8V393.5M953.0,373.8h6.4M953.0,393.5h6.4M963.9,373.7V406.8M960.7,373.7h6.4M960.7,406.8h6.4M971.6,357.3V386.9M968.4,357.3h6.4M968.4,386.9h6.4M979.3,349.7V379.7M976.1,349.7h6.4M976.1,379.7h6.4M987.0,357.2V384.8M983.8,357.2h6.4M983.8,384.8h6.4M994.8,373.8V403.4M991.6,373.8h6.4M991.6,403.4h6.4M1002.5,375.1V398.6M999.3,375.1h6.4M999.3,398.6h6.4M1010.2,362.9V407.2M1007.0,362.9h6.4M1007.0,407.2h6.4M1017.9,374.1V410.0M1014.7,374.1h6.4M1014.7,410.0h6.4M1025.6,376.3V411.9M1022.4,376.3h6.4M1022.4,411.9h6.4M1033.4,377.5V412.4M1030.2,377.5h6.4M1030.2,412.4h6.4M1041.1,361.6V404.4M1037.9,361.6h6.4M1037.9,404.4h6.4M1048.8,354.4V390.6M1045.6,354.4h6.4M1045.6,390.6h6.4M1056.5,366.0V392.4M1053.3,366.0h6.4M1053.3,392.4h6.4M1064.2,376.3V398.1M1061.0,376.3h6.4M1061.0,398.1h6.4M1072.0,378.4V411.0M1068.8,378.4h6.4M1068.8,411.0h6.4M1079.7,384.1V413.5M1076.5,384.1h6.4M1076.5,413.5h6.4M1087.4,378.0V407.1M1084.2,378.0h6.4M1084.2,407.1h6.4M1095.1,368.7V408.2M1091.9,368.7h6.4M1091.9,408.2h6.4M1102.8,375.9V407.8M1099.6,375.9h6.4M1099.6,407.8h6.4M1110.6,372.1V403.7M1107.4,372.1h6.4M1107.4,403.7h6.4M1118.3,372.0V407.6M1115.1,372.0h6.4M1115.1,407.6h6.4M1126.0,375.7V421.2M1122.8,375.7h6.4M1122.8,421.2h6.4M1133.7,383.1V416.1M1130.5,383.1h6.4M1130.5,416.1h6.4M1141.4,377.7V413.2M1138.2,377.7h6.4M1138.2,413.2h6.4M1149.2,390.2V411.3M1146.0,390.2h6.4M1146.0,411.3h6.4M1156.9,388.4V427.6M1153.7,388.4h6.4M1153.7,427.6h6.4M1164.6,382.0V418.4M1161.4,382.0h6.4M1161.4,418.4h6.4M1172.3,365.4V417.6M1169.1,365.4h6.4M1169.1,417.6h6.4M1180.0,377.4V410.0M1176.8,377.4h6.4M1176.8,410.0h6.4M1187.8,377.8V420.9M1184.6,377.8h6.4M1184.6,420.9h6.4M1195.5,383.9V419.6M1192.3,383.9h6.4M1192.3,419.6h6.4M1203.2,365.4V415.3M1200.0,365.4h6.4M1200.0,415.3h6.4M1210.9,375.5V414.0M1207.7,375.5h6.4M1207.7,414.0h6.4M1218.6,378.4V407.5M1215.4,378.4h6.4M1215.4,407.5h6.4M1226.4,370.9V419.5M1223.2,370.9h6.4M1223.2,419.5h6.4M1234.1,372.1V416.4M1230.9,372.1h6.4M1230.9,416.4h6.4M1241.8,364.9V402.2M1238.6,364.9h6.4M1238.6,402.2h6.4M1249.5,367.2V398.2M1246.3,367.2h6.4M1246.3,398.2h6.4M1257.2,371.3V397.6M1254.0,371.3h6.4M1254.0,397.6h6.4M1265.0,361.0V414.1M1261.8,361.0h6.4M1261.8,414.1h6.4M1272.7,372.0V398.4M1269.5,372.0h6.4M1269.5,398.4h6.4M1280.4,357.8V408.6M1277.2,357.8h6.4M1277.2,408.6h6.4M1288.1,368.6V403.4M1284.9,368.6h6.4M1284.9,403.4h6.4M1295.8,363.8V413.3M1292.6,363.8h6.4M1292.6,413.3h6.4M1303.6,358.8V398.4M1300.4,358.8h6.4M1300.4,398.4h6.4M1311.3,354.6V396.3M1308.1,354.6h6.4M1308.1,396.3h6.4M1319.0,367.9V401.3M1315.8,367.9h6.4M1315.8,401.3h6.4M1326.7,360.1V402.2M1323.5,360.1h6.4M1323.5,402.2h6.4M1334.4,352.9V409.0M1331.2,352.9h6.4M1331.2,409.0h6.4M1342.2,347.9V399.3M1339.0,347.9h6.4M1339.0,399.3h6.4M1349.9,359.3V393.8M1346.7,359.3h6.4M1346.7,393.8h6.4M1357.6,361.4V405.1M1354.4,361.4h6.4M1354.4,405.1h6.4M1365.3,359.1V398.1M1362.1,359.1h6.4M1362.1,398.1h6.4" fill="none" stroke="#f9b4b4" stroke-width="1.4" />
<path d="M898.2,356.2V382.6M895.0,356.2h6.4M895.0,382.6h6.4M905.9,350.5V375.6M902.7,350.5h6.4M902.7,375.6h6.4M913.6,358.8V384.7M910.4,358.8h6.4M910.4,384.7h6.4M921.4,368.1V397.0M918.2,368.1h6.4M918.2,397.0h6.4M929.1,372.7V402.5M925.9,372.7h6.4M925.9,402.5h6.4M936.8,371.1V401.9M933.6,371.1h6.4M933.6,401.9h6.4M944.5,363.9V396.1M941.3,363.9h6.4M941.3,396.1h6.4M952.2,359.3V393.0M949.0,359.3h6.4M949.0,393.0h6.4M960.0,356.7V389.6M956.8,356.7h6.4M956.8,389.6h6.4M967.7,351.3V386.7M964.5,351.3h6.4M964.5,386.7h6.4M975.4,350.9V389.3M972.2,350.9h6.4M972.2,389.3h6.4M983.1,351.0V389.2M979.9,351.0h6.4M979.9,389.2h6.4M990.8,349.9V388.0M987.6,349.9h6.4M987.6,388.0h6.4M998.6,347.4V388.4M995.4,347.4h6.4M995.4,388.4h6.4M1006.3,352.8V394.5M1003.1,352.8h6.4M1003.1,394.5h6.4M1014.0,340.4V392.6M1010.8,340.4h6.4M1010.8,392.6h6.4M1021.7,318.9V382.3M1018.5,318.9h6.4M1018.5,382.3h6.4M1029.4,307.5V372.8M1026.2,307.5h6.4M1026.2,372.8h6.4M1037.2,296.2V372.2M1034.0,296.2h6.4M1034.0,372.2h6.4M1044.9,275.8V364.4M1041.7,275.8h6.4M1041.7,364.4h6.4M1052.6,253.7V355.1M1049.4,253.7h6.4M1049.4,355.1h6.4M1060.3,221.3V341.9M1057.1,221.3h6.4M1057.1,341.9h6.4M1068.0,216.1V322.9M1064.8,216.1h6.4M1064.8,322.9h6.4M1075.8,202.7V321.6M1072.6,202.7h6.4M1072.6,321.6h6.4M1083.5,185.3V305.7M1080.3,185.3h6.4M1080.3,305.7h6.4M1091.2,161.5V298.1M1088.0,161.5h6.4M1088.0,298.1h6.4M1098.9,161.8V293.6M1095.7,161.8h6.4M1095.7,293.6h6.4M1106.6,154.0V282.4M1103.4,154.0h6.4M1103.4,282.4h6.4M1114.4,148.2V279.1M1111.2,148.2h6.4M1111.2,279.1h6.4M1122.1,149.7V288.7M1118.9,149.7h6.4M1118.9,288.7h6.4M1129.8,138.8V272.4M1126.6,138.8h6.4M1126.6,272.4h6.4M1137.5,134.8V270.4M1134.3,134.8h6.4M1134.3,270.4h6.4M1145.2,138.9V282.5M1142.0,138.9h6.4M1142.0,282.5h6.4M1153.0,129.5V268.5M1149.8,129.5h6.4M1149.8,268.5h6.4M1160.7,128.1V265.0M1157.5,128.1h6.4M1157.5,265.0h6.4M1168.4,128.7V272.4M1165.2,128.7h6.4M1165.2,272.4h6.4M1176.1,130.9V264.0M1172.9,130.9h6.4M1172.9,264.0h6.4M1183.8,122.2V267.4M1180.6,122.2h6.4M1180.6,267.4h6.4M1191.6,119.1V266.3M1188.4,119.1h6.4M1188.4,266.3h6.4M1199.3,114.1V273.1M1196.1,114.1h6.4M1196.1,273.1h6.4M1207.0,112.3V266.6M1203.8,112.3h6.4M1203.8,266.6h6.4M1214.7,108.7V258.7M1211.5,108.7h6.4M1211.5,258.7h6.4M1222.4,94.4V245.7M1219.2,94.4h6.4M1219.2,245.7h6.4M1230.2,91.4V240.9M1227.0,91.4h6.4M1227.0,240.9h6.4M1237.9,83.5V221.7M1234.7,83.5h6.4M1234.7,221.7h6.4M1245.6,70.7V218.6M1242.4,70.7h6.4M1242.4,218.6h6.4M1253.3,74.2V226.7M1250.1,74.2h6.4M1250.1,226.7h6.4M1261.0,84.2V217.2M1257.8,84.2h6.4M1257.8,217.2h6.4M1268.8,86.3V228.0M1265.6,86.3h6.4M1265.6,228.0h6.4M1276.5,75.8V215.2M1273.3,75.8h6.4M1273.3,215.2h6.4M1284.2,67.4V219.7M1281.0,67.4h6.4M1281.0,219.7h6.4M1291.9,72.2V211.4M1288.7,72.2h6.4M1288.7,211.4h6.4M1299.6,70.9V223.9M1296.4,70.9h6.4M1296.4,223.9h6.4M1307.4,89.4V228.9M1304.2,89.4h6.4M1304.2,228.9h6.4M1315.1,79.8V216.8M1311.9,79.8h6.4M1311.9,216.8h6.4M1322.8,72.2V209.7M1319.6,72.2h6.4M1319.6,209.7h6.4M1330.5,67.7V212.3M1327.3,67.7h6.4M1327.3,212.3h6.4M1338.2,79.5V232.1M1335.0,79.5h6.4M1335.0,232.1h6.4M1346.0,75.2V221.6M1342.8,75.2h6.4M1342.8,221.6h6.4M1353.7,74.4V213.9M1350.5,74.4h6.4M1350.5,213.9h6.4M1361.4,80.2V218.5M1358.2,80.2h6.4M1358.2,218.5h6.4" fill="none" stroke="#a9d5a9" stroke-width="1.4" />
<path d="M894.4,373.3 L895.9,372.5 L897.4,371.8 L898.9,371.2 L900.4,370.7 L901.9,370.5 L903.4,370.7 L904.9,371.1 L906.4,371.8 L907.9,372.7 L909.4,373.8 L910.9,375.0 L912.4,376.3 L913.9,377.5 L915.4,378.6 L916.9,379.7 L918.4,380.5 L919.9,381.1 L921.4,381.5 L922.9,381.7 L924.4,381.6 L925.9,381.4 L927.4,381.0 L928.9,380.4 L930.4,379.6 L931.9,378.7 L933.4,377.6 L934.9,376.4 L936.4,375.2 L937.9,373.9 L939.4,372.8 L940.9,371.8 L942.4,371.1 L943.9,370.7 L945.4,370.7 L946.9,371.2 L948.4,372.2 L949.9,373.7 L951.4,375.6 L952.9,377.7 L954.4,379.9 L955.9,381.9 L957.4,383.8 L958.9,385.3 L960.4,386.3 L961.9,386.6 L963.4,386.2 L964.9,385.1 L966.4,383.6 L967.9,381.7 L969.4,379.6 L970.9,377.3 L972.4,375.2 L973.9,373.1 L975.4,371.4 L976.9,370.2 L978.4,369.5 L979.9,369.3 L981.4,369.8 L982.9,370.6 L984.4,371.8 L985.9,373.2 L987.4,374.8 L988.9,376.5 L990.4,378.1 L991.9,379.7 L993.4,381.2 L994.9,382.5 L996.4,383.8 L997.9,384.8 L999.4,385.7 L1000.9,386.3 L1002.4,386.8 L1003.9,387.0 L1005.4,386.9 L1006.9,386.7 L1008.4,386.3 L1009.9,385.9 L1011.4,385.6 L1012.9,385.4 L1014.4,385.5 L1015.9,386.0 L1017.4,386.8 L1018.9,388.0 L1020.4,389.3 L1021.9,390.6 L1023.4,391.8 L1024.9,392.8 L1026.4,393.3 L1027.9,393.3 L1029.4,392.7 L1030.9,391.8 L1032.4,390.5 L1033.9,389.0 L1035.4,387.3 L1036.9,385.5 L1038.4,383.8 L1039.9,382.1 L1041.4,380.6 L1042.9,379.4 L1044.4,378.3 L1045.9,377.6 L1047.4,377.1 L1048.9,376.9 L1050.4,377.1 L1051.9,377.6 L1053.4,378.4 L1054.9,379.4 L1056.4,380.6 L1057.9,381.9 L1059.4,383.3 L1060.9,384.8 L1062.4,386.2 L1063.9,387.5 L1065.4,388.8 L1066.9,389.9 L1068.4,390.8 L1069.9,391.5 L1071.4,392.2 L1072.9,392.7 L1074.4,393.1 L1075.9,393.3 L1077.4,393.5 L1078.9,393.6 L1080.4,393.6 L1081.9,393.5 L1083.4,393.4 L1084.9,393.2 L1086.4,392.9 L1087.9,392.6 L1089.4,392.3 L1090.9,392.0 L1092.4,391.7 L1093.9,391.4 L1095.4,391.1 L1096.9,390.8 L1098.4,390.6 L1099.9,390.5 L1101.4,390.5 L1102.9,390.6 L1104.4,390.8 L1105.9,391.1 L1107.4,391.6 L1108.9,392.2 L1110.4,393.0 L1111.9,393.8 L1113.4,394.8 L1114.9,395.7 L1116.4,396.5 L1117.9,397.3 L1119.4,397.9 L1120.9,398.3 L1122.4,398.5 L1123.9,398.3 L1125.4,397.9 L1126.9,397.3 L1128.4,396.4 L1129.9,395.5 L1131.4,394.6 L1132.9,393.7 L1134.4,393.0 L1135.9,392.5 L1137.4,392.3 L1138.9,392.5 L1140.4,393.1 L1141.9,394.0 L1143.4,395.2 L1144.9,396.6 L1146.4,398.0 L1147.9,399.4 L1149.4,400.6 L1150.9,401.6 L1152.4,402.2 L1153.9,402.4 L1155.4,402.2 L1156.9,401.6 L1158.4,400.7 L1159.9,399.6 L1161.4,398.4 L1162.9,397.0 L1164.4,395.7 L1165.9,394.5 L1167.4,393.3 L1168.9,392.4 L1170.4,391.8 L1171.9,391.4 L1173.4,391.4 L1174.9,391.6 L1176.4,392.0 L1177.9,392.6 L1179.4,393.3 L1180.9,394.0 L1182.4,394.8 L1183.9,395.6 L1185.4,396.3 L1186.9,396.9 L1188.4,397.4 L1189.9,397.6 L1191.4,397.7 L1192.9,397.4 L1194.4,396.9 L1195.9,396.0 L1197.4,394.9 L1198.9,393.6 L1200.4,392.3 L1201.9,390.9 L1203.4,389.6 L1204.9,388.5 L1206.4,387.6 L1207.9,386.9 L1209.4,386.7 L1210.9,386.8 L1212.4,387.2 L1213.9,387.9 L1215.4,388.8 L1216.9,389.7 L1218.4,390.6 L1219.9,391.4 L1221.4,392.1 L1222.9,392.5 L1224.4,392.7 L1225.9,392.5 L1227.4,392.2 L1228.9,391.7 L1230.4,391.0 L1231.9,390.2 L1233.4,389.4 L1234.9,388.6 L1236.4,387.9 L1237.9,387.1 L1239.4,386.5 L1240.9,385.9 L1242.4,385.4 L1243.9,385.0 L1245.4,384.7 L1246.9,384.4 L1248.4,384.1 L1249.9,383.9 L1251.4,383.8 L1252.9,383.7 L1254.4,383.7 L1255.9,383.7 L1257.4,383.8 L1258.9,383.9 L1260.4,384.1 L1261.9,384.3 L1263.4,384.5 L1264.9,384.8 L1266.4,385.0 L1267.9,385.3 L1269.4,385.6 L1270.9,385.9 L1272.4,386.2 L1273.9,386.5 L1275.4,386.7 L1276.9,387.0 L1278.4,387.2 L1279.9,387.3 L1281.4,387.5 L1282.9,387.6 L1284.4,387.6 L1285.9,387.7 L1287.4,387.6 L1288.9,387.5 L1290.4,387.4 L1291.9,387.2 L1293.4,387.0 L1294.9,386.6 L1296.4,386.2 L1297.9,385.6 L1299.4,384.6 L1300.9,383.1 L1302.4,381.0 L1303.9,378.2 L1305.4,375.0 L1306.9,371.8 L1308.4,369.1 L1309.9,367.5 L1311.4,367.3 L1312.9,368.6 L1314.4,370.8 L1315.9,373.7 L1317.4,376.8 L1318.9,380.0 L1320.4,382.8 L1321.9,385.3 L1323.4,387.1 L1324.9,388.0 L1326.4,388.0 L1327.9,387.2 L1329.4,385.8 L1330.9,384.0 L1332.4,381.9 L1333.9,379.6 L1335.4,377.5 L1336.9,375.6 L1338.4,374.0 L1339.9,373.0 L1341.4,372.3 L1342.9,371.9 L1344.4,371.8 L1345.9,372.0 L1347.4,372.4 L1348.9,372.9 L1350.4,373.6 L1351.9,374.2 L1353.4,374.9 L1354.9,375.5 L1356.4,376.1 L1357.9,376.5 L1359.4,376.7 L1360.9,376.9 L1362.4,377.0 L1363.9,377.0 L1365.4,377.0" fill="none" stroke="#f22a2a" stroke-width="2.8" stroke-linejoin="round"/>
<path d="M894.4,375.0 L895.9,372.7 L897.4,370.5 L898.9,368.4 L900.4,366.6 L901.9,365.1 L903.4,364.1 L904.9,363.5 L906.4,363.5 L907.9,364.1 L909.4,365.2 L910.9,366.9 L912.4,368.9 L913.9,371.1 L915.4,373.5 L916.9,375.9 L918.4,378.2 L919.9,380.3 L921.4,382.1 L922.9,383.6 L924.4,384.8 L925.9,385.8 L927.4,386.5 L928.9,386.9 L930.4,387.1 L931.9,387.1 L933.4,386.8 L934.9,386.3 L936.4,385.7 L937.9,385.0 L939.4,384.1 L940.9,383.1 L942.4,382.1 L943.9,381.1 L945.4,380.0 L946.9,379.0 L948.4,378.0 L949.9,377.1 L951.4,376.3 L952.9,375.5 L954.4,374.8 L955.9,374.1 L957.4,373.4 L958.9,372.8 L960.4,372.2 L961.9,371.7 L963.4,371.2 L964.9,370.8 L966.4,370.4 L967.9,370.1 L969.4,369.9 L970.9,369.9 L972.4,369.9 L973.9,370.1 L975.4,370.4 L976.9,370.7 L978.4,371.1 L979.9,371.3 L981.4,371.4 L982.9,371.3 L984.4,370.9 L985.9,370.1 L987.4,369.3 L988.9,368.3 L990.4,367.5 L991.9,366.9 L993.4,366.6 L994.9,366.8 L996.4,367.4 L997.9,368.3 L999.4,369.3 L1000.9,370.5 L1002.4,371.6 L1003.9,372.5 L1005.4,373.2 L1006.9,373.4 L1008.4,373.2 L1009.9,372.4 L1011.4,371.0 L1012.9,369.2 L1014.4,367.0 L1015.9,364.3 L1017.4,361.4 L1018.9,358.2 L1020.4,354.9 L1021.9,351.5 L1023.4,348.3 L1024.9,345.2 L1026.4,342.5 L1027.9,340.3 L1029.4,338.4 L1030.9,336.8 L1032.4,335.5 L1033.9,334.2 L1035.4,333.1 L1036.9,331.9 L1038.4,330.6 L1039.9,329.1 L1041.4,327.3 L1042.9,325.3 L1044.4,322.9 L1045.9,320.2 L1047.4,317.2 L1048.9,313.8 L1050.4,310.1 L1051.9,306.1 L1053.4,301.8 L1054.9,297.2 L1056.4,292.5 L1057.9,287.7 L1059.4,283.1 L1060.9,278.8 L1062.4,275.0 L1063.9,271.8 L1065.4,269.5 L1066.9,267.9 L1068.4,267.0 L1069.9,266.5 L1071.4,266.2 L1072.9,265.9 L1074.4,265.3 L1075.9,264.2 L1077.4,262.5 L1078.9,259.9 L1080.4,256.8 L1081.9,253.2 L1083.4,249.5 L1084.9,245.7 L1086.4,242.1 L1087.9,238.8 L1089.4,235.8 L1090.9,233.1 L1092.4,230.7 L1093.9,228.5 L1095.4,226.7 L1096.9,225.1 L1098.4,223.7 L1099.9,222.5 L1101.4,221.6 L1102.9,220.7 L1104.4,220.0 L1105.9,219.4 L1107.4,218.9 L1108.9,218.4 L1110.4,217.9 L1111.9,217.4 L1113.4,216.8 L1114.9,216.3 L1116.4,215.8 L1117.9,215.3 L1119.4,214.7 L1120.9,214.2 L1122.4,213.7 L1123.9,213.2 L1125.4,212.7 L1126.9,212.2 L1128.4,211.7 L1129.9,211.3 L1131.4,210.8 L1132.9,210.4 L1134.4,209.9 L1135.9,209.4 L1137.4,209.0 L1138.9,208.5 L1140.4,207.9 L1141.9,207.4 L1143.4,206.8 L1144.9,206.1 L1146.4,205.4 L1147.9,204.6 L1149.4,203.8 L1150.9,202.9 L1152.4,202.0 L1153.9,201.0 L1155.4,199.9 L1156.9,198.9 L1158.4,197.9 L1159.9,196.9 L1161.4,196.0 L1162.9,195.1 L1164.4,194.4 L1165.9,193.8 L1167.4,193.4 L1168.9,193.1 L1170.4,193.0 L1171.9,193.1 L1173.4,193.4 L1174.9,193.9 L1176.4,194.4 L1177.9,195.0 L1179.4,195.7 L1180.9,196.5 L1182.4,197.2 L1183.9,197.8 L1185.4,198.4 L1186.9,198.8 L1188.4,199.1 L1189.9,199.2 L1191.4,199.0 L1192.9,198.6 L1194.4,197.9 L1195.9,197.0 L1197.4,195.9 L1198.9,194.7 L1200.4,193.4 L1201.9,192.1 L1203.4,190.8 L1204.9,189.4 L1206.4,188.1 L1207.9,186.7 L1209.4,185.4 L1210.9,184.0 L1212.4,182.6 L1213.9,181.1 L1215.4,179.7 L1216.9,178.2 L1218.4,176.7 L1219.9,175.2 L1221.4,173.6 L1222.9,172.0 L1224.4,170.4 L1225.9,168.8 L1227.4,167.1 L1228.9,165.5 L1230.4,163.8 L1231.9,162.1 L1233.4,160.4 L1234.9,158.7 L1236.4,157.0 L1237.9,155.4 L1239.4,153.9 L1240.9,152.5 L1242.4,151.2 L1243.9,150.0 L1245.4,149.1 L1246.9,148.3 L1248.4,147.7 L1249.9,147.4 L1251.4,147.4 L1252.9,147.7 L1254.4,148.2 L1255.9,149.0 L1257.4,149.8 L1258.9,150.7 L1260.4,151.6 L1261.9,152.4 L1263.4,153.1 L1264.9,153.5 L1266.4,153.6 L1267.9,153.4 L1269.4,152.7 L1270.9,151.8 L1272.4,150.5 L1273.9,149.1 L1275.4,147.6 L1276.9,145.9 L1278.4,144.3 L1279.9,142.8 L1281.4,141.4 L1282.9,140.2 L1284.4,139.3 L1285.9,138.7 L1287.4,138.5 L1288.9,138.7 L1290.4,139.4 L1291.9,140.4 L1293.4,141.7 L1294.9,143.4 L1296.4,145.2 L1297.9,147.2 L1299.4,149.4 L1300.9,151.5 L1302.4,153.5 L1303.9,155.2 L1305.4,156.5 L1306.9,157.2 L1308.4,157.4 L1309.9,156.8 L1311.4,155.7 L1312.9,154.1 L1314.4,152.1 L1315.9,150.0 L1317.4,147.9 L1318.9,145.8 L1320.4,143.9 L1321.9,142.3 L1323.4,141.2 L1324.9,140.7 L1326.4,140.9 L1327.9,141.6 L1329.4,142.9 L1330.9,144.5 L1332.4,146.3 L1333.9,148.2 L1335.4,150.1 L1336.9,151.9 L1338.4,153.3 L1339.9,154.3 L1341.4,154.8 L1342.9,154.6 L1344.4,154.0 L1345.9,153.0 L1347.4,151.8 L1348.9,150.4 L1350.4,149.0 L1351.9,147.7 L1353.4,146.7 L1354.9,145.9 L1356.4,145.7 L1357.9,145.9 L1359.4,146.8 L1360.9,148.1 L1362.4,149.7 L1363.9,151.5 L1365.4,153.5" fill="none" stroke="#1c8c1c" stroke-width="2.8" stroke-linejoin="round"/>
<path d="M888.9,61V447.8" fill="none" stroke="#5a5a5a" stroke-width="2.3" />
<path d="M881.5,446.5H1368" fill="none" stroke="#5a5a5a" stroke-width="2.8" />
<path d="M881,86H889" fill="none" stroke="#5a5a5a" stroke-width="2" />
<path d="M881,182.3H889" fill="none" stroke="#5a5a5a" stroke-width="2" />
<path d="M881,279H889" fill="none" stroke="#5a5a5a" stroke-width="2" />
<path d="M881,375.7H889" fill="none" stroke="#5a5a5a" stroke-width="2" />
<path d="M884.5,134.2H889" fill="none" stroke="#5a5a5a" stroke-width="1.6" />
<path d="M884.5,230.6H889" fill="none" stroke="#5a5a5a" stroke-width="1.6" />
<path d="M884.5,327.3H889" fill="none" stroke="#5a5a5a" stroke-width="1.6" />
<path d="M894.6,446V453.5" fill="none" stroke="#5a5a5a" stroke-width="2.2" />
<path d="M951.0,446V450.5" fill="none" stroke="#5a5a5a" stroke-width="1.8" />
<path d="M1007.3,446V453.5" fill="none" stroke="#5a5a5a" stroke-width="2.2" />
<path d="M1063.7,446V450.5" fill="none" stroke="#5a5a5a" stroke-width="1.8" />
<path d="M1120.0,446V453.5" fill="none" stroke="#5a5a5a" stroke-width="2.2" />
<path d="M1176.3,446V450.5" fill="none" stroke="#5a5a5a" stroke-width="1.8" />
<path d="M1232.7,446V453.5" fill="none" stroke="#5a5a5a" stroke-width="2.2" />
<path d="M1289.0,446V450.5" fill="none" stroke="#5a5a5a" stroke-width="1.8" />
<path d="M1345.4,446V453.5" fill="none" stroke="#5a5a5a" stroke-width="2.2" />
<path d="M881.8,428.4L896.4,420.8M881.8,435.5L896.4,427.2" fill="none" stroke="#5a5a5a" stroke-width="1.6" />
<text transform="translate(814.15,98.46) scale(1.0172,1)" font-family='"Liberation Sans", sans-serif' font-size="43.96" fill="#000">1.6</text>
<text transform="translate(814.12,195.00) scale(1.0055,1)" font-family='"Liberation Sans", sans-serif' font-size="44.80" fill="#000">1.4</text>
<text transform="translate(814.09,292.00) scale(1.0227,1)" font-family='"Liberation Sans", sans-serif' font-size="44.44" fill="#000">1.2</text>
<text transform="translate(849.45,390.00) scale(0.9600,1)" font-family='"Liberation Sans", sans-serif' font-size="45.24" fill="#000">1</text>
<text transform="translate(850.67,461.05) scale(1.0301,1)" font-family='"Liberation Sans", sans-serif' font-size="44.52" fill="#000">0</text>
<text transform="translate(882.63,496.56) scale(0.9956,1)" font-family='"Liberation Sans", sans-serif' font-size="44.38" fill="#000">0</text>
<text transform="translate(971.24,496.56) scale(0.9781,1)" font-family='"Liberation Sans", sans-serif' font-size="44.38" fill="#000">100</text>
<text transform="translate(1080.52,496.56) scale(1.0253,1)" font-family='"Liberation Sans", sans-serif' font-size="44.38" fill="#000">200</text>
<text transform="translate(1193.83,496.56) scale(1.0046,1)" font-family='"Liberation Sans", sans-serif' font-size="44.38" fill="#000">300</text>
<text transform="translate(1305.29,496.56) scale(1.0078,1)" font-family='"Liberation Sans", sans-serif' font-size="44.38" fill="#000">400</text>
<text transform="translate(1213.99,545.93) scale(1.0884,1)" font-family='"Liberation Sans", sans-serif' font-size="41.29" fill="#000">Time (s)</text>
<text transform="translate(796.28,526.72) rotate(-90) scale(0.9822,1)" font-family='"Liberation Sans", sans-serif' font-size="45.90" fill="#000">Fluorescence Intensity</text>
<text transform="translate(887.73,98.47) scale(1.0686,1)" font-family='"Liberation Sans", sans-serif' font-size="42.72" fill="#000">Bombesin</text>
<path d="M952.2,106.7V359.6" stroke="#111" stroke-width="2.2" fill="none"/><path d="M952.2,370.6 L949.0,357.6 H955.4000000000001 Z" fill="#111"/>
<path d="M1132.8,282H1206" fill="none" stroke="#1c8c1c" stroke-width="2.6" />
<path d="M1132.8,333.3H1206" fill="none" stroke="#f22a2a" stroke-width="2.6" />
<text transform="translate(1215.71,296.26) scale(1.0084,1)" font-family='"Liberation Sans", sans-serif' font-size="39.25" fill="#000">YFP-<tspan font-family='"Liberation Serif", serif'>β</tspan>1</text>
<text transform="translate(1215.71,347.92) scale(1.0941,1)" font-family='"Liberation Sans", sans-serif' font-size="37.82" fill="#000">mCh-PH</text>
<rect x="753.8" y="733.8" width="587.5" height="429.8" fill="#fdfdfd"/>
<path d="M890.0,926.2V934.4M887.8,926.2h4.4M887.8,934.4h4.4M894.6,925.3V935.1M892.4,925.3h4.4M892.4,935.1h4.4M899.2,924.4V933.6M897.0,924.4h4.4M897.0,933.6h4.4M903.9,915.3V934.3M901.7,915.3h4.4M901.7,934.3h4.4M908.5,916.9V937.3M906.3,916.9h4.4M906.3,937.3h4.4M913.1,917.7V938.4M910.9,917.7h4.4M910.9,938.4h4.4M917.7,919.6V943.0M915.5,919.6h4.4M915.5,943.0h4.4M922.3,920.1V936.6M920.1,920.1h4.4M920.1,936.6h4.4M927.0,920.4V937.7M924.8,920.4h4.4M924.8,937.7h4.4M931.6,914.6V947.0M929.4,914.6h4.4M929.4,947.0h4.4M936.2,915.0V935.9M934.0,915.0h4.4M934.0,935.9h4.4M940.8,916.7V948.2M938.6,916.7h4.4M938.6,948.2h4.4M945.4,919.5V943.1M943.2,919.5h4.4M943.2,943.1h4.4M950.1,915.2V943.8M947.9,915.2h4.4M947.9,943.8h4.4M954.7,915.9V944.3M952.5,915.9h4.4M952.5,944.3h4.4M959.3,913.9V943.9M957.1,913.9h4.4M957.1,943.9h4.4M963.9,908.4V943.1M961.7,908.4h4.4M961.7,943.1h4.4M968.5,919.1V936.0M966.3,919.1h4.4M966.3,936.0h4.4M973.2,907.9V942.0M971.0,907.9h4.4M971.0,942.0h4.4M977.8,918.4V948.3M975.6,918.4h4.4M975.6,948.3h4.4M982.4,912.8V945.1M980.2,912.8h4.4M980.2,945.1h4.4M987.0,908.2V938.5M984.8,908.2h4.4M984.8,938.5h4.4M991.6,915.0V946.2M989.4,915.0h4.4M989.4,946.2h4.4M996.3,917.3V943.9M994.1,917.3h4.4M994.1,943.9h4.4M1000.9,916.9V942.0M998.7,916.9h4.4M998.7,942.0h4.4M1005.5,907.3V944.5M1003.3,907.3h4.4M1003.3,944.5h4.4M1010.1,904.0V936.8M1007.9,904.0h4.4M1007.9,936.8h4.4M1014.7,911.4V930.2M1012.5,911.4h4.4M1012.5,930.2h4.4M1019.4,904.9V933.4M1017.2,904.9h4.4M1017.2,933.4h4.4M1024.0,909.4V937.0M1021.8,909.4h4.4M1021.8,937.0h4.4M1028.6,901.4V932.3M1026.4,901.4h4.4M1026.4,932.3h4.4M1033.2,903.8V924.3M1031.0,903.8h4.4M1031.0,924.3h4.4M1037.8,905.4V924.3M1035.6,905.4h4.4M1035.6,924.3h4.4M1042.5,900.6V924.3M1040.3,900.6h4.4M1040.3,924.3h4.4M1047.1,898.1V929.0M1044.9,898.1h4.4M1044.9,929.0h4.4M1051.7,890.0V919.0M1049.5,890.0h4.4M1049.5,919.0h4.4M1056.3,896.3V918.2M1054.1,896.3h4.4M1054.1,918.2h4.4M1060.9,892.1V929.1M1058.7,892.1h4.4M1058.7,929.1h4.4M1065.6,898.3V925.8M1063.4,898.3h4.4M1063.4,925.8h4.4M1070.2,896.5V914.9M1068.0,896.5h4.4M1068.0,914.9h4.4M1074.8,889.4V918.9M1072.6,889.4h4.4M1072.6,918.9h4.4M1079.4,896.6V919.1M1077.2,896.6h4.4M1077.2,919.1h4.4M1084.0,894.1V917.1M1081.8,894.1h4.4M1081.8,917.1h4.4M1088.7,889.3V915.4M1086.5,889.3h4.4M1086.5,915.4h4.4M1093.3,885.5V911.8M1091.1,885.5h4.4M1091.1,911.8h4.4M1097.9,891.0V907.5M1095.7,891.0h4.4M1095.7,907.5h4.4M1102.5,889.8V912.6M1100.3,889.8h4.4M1100.3,912.6h4.4M1107.1,885.9V916.2M1104.9,885.9h4.4M1104.9,916.2h4.4M1111.8,883.9V914.9M1109.6,883.9h4.4M1109.6,914.9h4.4M1116.4,877.6V906.2M1114.2,877.6h4.4M1114.2,906.2h4.4M1121.0,891.3V907.5M1118.8,891.3h4.4M1118.8,907.5h4.4M1125.6,885.9V913.3M1123.4,885.9h4.4M1123.4,913.3h4.4M1130.2,880.4V909.7M1128.0,880.4h4.4M1128.0,909.7h4.4M1134.9,876.5V904.1M1132.7,876.5h4.4M1132.7,904.1h4.4M1139.5,877.4V906.0M1137.3,877.4h4.4M1137.3,906.0h4.4M1144.1,875.9V902.6M1141.9,875.9h4.4M1141.9,902.6h4.4M1148.7,873.7V911.9M1146.5,873.7h4.4M1146.5,911.9h4.4M1153.3,872.6V908.6M1151.1,872.6h4.4M1151.1,908.6h4.4M1158.0,883.5V913.6M1155.8,883.5h4.4M1155.8,913.6h4.4M1162.6,879.6V900.9M1160.4,879.6h4.4M1160.4,900.9h4.4M1167.2,877.2V906.7M1165.0,877.2h4.4M1165.0,906.7h4.4M1171.8,879.2V902.0M1169.6,879.2h4.4M1169.6,902.0h4.4M1176.4,884.3V908.2M1174.2,884.3h4.4M1174.2,908.2h4.4M1181.1,880.0V902.1M1178.9,880.0h4.4M1178.9,902.1h4.4M1185.7,880.4V910.7M1183.5,880.4h4.4M1183.5,910.7h4.4M1190.3,876.6V907.3M1188.1,876.6h4.4M1188.1,907.3h4.4M1194.9,881.3V905.8M1192.7,881.3h4.4M1192.7,905.8h4.4M1199.5,883.8V903.7M1197.3,883.8h4.4M1197.3,903.7h4.4M1204.2,881.1V902.8M1202.0,881.1h4.4M1202.0,902.8h4.4M1208.8,877.6V911.7M1206.6,877.6h4.4M1206.6,911.7h4.4M1213.4,879.7V902.6M1211.2,879.7h4.4M1211.2,902.6h4.4M1218.0,883.6V908.7M1215.8,883.6h4.4M1215.8,908.7h4.4M1222.6,887.8V916.6M1220.4,887.8h4.4M1220.4,916.6h4.4M1227.3,878.8V910.4M1225.1,878.8h4.4M1225.1,910.4h4.4M1231.9,879.6V906.3M1229.7,879.6h4.4M1229.7,906.3h4.4M1236.5,886.3V910.8M1234.3,886.3h4.4M1234.3,910.8h4.4M1241.1,878.9V912.4M1238.9,878.9h4.4M1238.9,912.4h4.4M1245.7,889.1V911.8M1243.5,889.1h4.4M1243.5,911.8h4.4M1250.4,876.3V913.4M1248.2,876.3h4.4M1248.2,913.4h4.4M1255.0,875.8V916.6M1252.8,875.8h4.4M1252.8,916.6h4.4M1259.6,885.4V906.7M1257.4,885.4h4.4M1257.4,906.7h4.4M1264.2,880.4V915.8M1262.0,880.4h4.4M1262.0,915.8h4.4M1268.8,882.2V914.5M1266.6,882.2h4.4M1266.6,914.5h4.4M1273.5,874.5V907.6M1271.3,874.5h4.4M1271.3,907.6h4.4M1278.1,876.5V912.6M1275.9,876.5h4.4M1275.9,912.6h4.4M1282.7,873.0V902.1M1280.5,873.0h4.4M1280.5,902.1h4.4M1287.3,870.6V899.2M1285.1,870.6h4.4M1285.1,899.2h4.4M1291.9,875.5V908.1M1289.7,875.5h4.4M1289.7,908.1h4.4M1296.6,866.8V897.1M1294.4,866.8h4.4M1294.4,897.1h4.4M1301.2,872.6V899.3M1299.0,872.6h4.4M1299.0,899.3h4.4" fill="none" stroke="#f9b4b4" stroke-width="1.2" />
<path d="M892.0,927.0V932.4M889.8,927.0h4.4M889.8,932.4h4.4M896.6,926.9V934.1M894.4,926.9h4.4M894.4,934.1h4.4M901.2,926.7V935.1M899.0,926.7h4.4M899.0,935.1h4.4M905.9,924.7V935.3M903.7,924.7h4.4M903.7,935.3h4.4M910.5,921.2V933.8M908.3,921.2h4.4M908.3,933.8h4.4M915.1,914.5V927.5M912.9,914.5h4.4M912.9,927.5h4.4M919.7,905.8V921.0M917.5,905.8h4.4M917.5,921.0h4.4M924.3,902.8V918.4M922.1,902.8h4.4M922.1,918.4h4.4M929.0,909.1V924.5M926.8,909.1h4.4M926.8,924.5h4.4M933.6,921.2V939.8M931.4,921.2h4.4M931.4,939.8h4.4M938.2,941.6V964.4M936.0,941.6h4.4M936.0,964.4h4.4M942.8,965.8V993.6M940.6,965.8h4.4M940.6,993.6h4.4M947.4,983.5V1014.0M945.2,983.5h4.4M945.2,1014.0h4.4M952.1,989.8V1029.6M949.9,989.8h4.4M949.9,1029.6h4.4M956.7,996.0V1036.0M954.5,996.0h4.4M954.5,1036.0h4.4M961.3,1000.9V1044.8M959.1,1000.9h4.4M959.1,1044.8h4.4M965.9,1004.0V1055.8M963.7,1004.0h4.4M963.7,1055.8h4.4M970.5,1006.9V1063.2M968.3,1006.9h4.4M968.3,1063.2h4.4M975.2,1003.7V1063.3M973.0,1003.7h4.4M973.0,1063.3h4.4M979.8,1009.6V1070.2M977.6,1009.6h4.4M977.6,1070.2h4.4M984.4,1014.1V1072.9M982.2,1014.1h4.4M982.2,1072.9h4.4M989.0,1008.7V1073.4M986.8,1008.7h4.4M986.8,1073.4h4.4M993.6,1012.2V1075.9M991.4,1012.2h4.4M991.4,1075.9h4.4M998.3,1012.8V1084.1M996.1,1012.8h4.4M996.1,1084.1h4.4M1002.9,1016.2V1077.5M1000.7,1016.2h4.4M1000.7,1077.5h4.4M1007.5,1016.8V1081.0M1005.3,1016.8h4.4M1005.3,1081.0h4.4M1012.1,1016.3V1075.9M1009.9,1016.3h4.4M1009.9,1075.9h4.4M1016.7,1011.4V1081.1M1014.5,1011.4h4.4M1014.5,1081.1h4.4M1021.4,1011.3V1075.7M1019.2,1011.3h4.4M1019.2,1075.7h4.4M1026.0,1009.5V1072.8M1023.8,1009.5h4.4M1023.8,1072.8h4.4M1030.6,1010.1V1073.2M1028.4,1010.1h4.4M1028.4,1073.2h4.4M1035.2,1009.6V1078.5M1033.0,1009.6h4.4M1033.0,1078.5h4.4M1039.8,1012.5V1073.5M1037.6,1012.5h4.4M1037.6,1073.5h4.4M1044.5,1006.5V1067.9M1042.3,1006.5h4.4M1042.3,1067.9h4.4M1049.1,1007.7V1072.1M1046.9,1007.7h4.4M1046.9,1072.1h4.4M1053.7,1002.1V1064.7M1051.5,1002.1h4.4M1051.5,1064.7h4.4M1058.3,1004.7V1070.4M1056.1,1004.7h4.4M1056.1,1070.4h4.4M1062.9,1008.1V1067.2M1060.7,1008.1h4.4M1060.7,1067.2h4.4M1067.6,1008.1V1063.3M1065.4,1008.1h4.4M1065.4,1063.3h4.4M1072.2,1001.1V1061.6M1070.0,1001.1h4.4M1070.0,1061.6h4.4M1076.8,997.6V1054.5M1074.6,997.6h4.4M1074.6,1054.5h4.4M1081.4,998.2V1056.7M1079.2,998.2h4.4M1079.2,1056.7h4.4M1086.0,995.4V1052.0M1083.8,995.4h4.4M1083.8,1052.0h4.4M1090.7,996.4V1054.6M1088.5,996.4h4.4M1088.5,1054.6h4.4M1095.3,995.1V1047.2M1093.1,995.1h4.4M1093.1,1047.2h4.4M1099.9,992.4V1047.3M1097.7,992.4h4.4M1097.7,1047.3h4.4M1104.5,992.5V1043.6M1102.3,992.5h4.4M1102.3,1043.6h4.4M1109.1,989.7V1040.9M1106.9,989.7h4.4M1106.9,1040.9h4.4M1113.8,989.2V1039.5M1111.6,989.2h4.4M1111.6,1039.5h4.4M1118.4,986.9V1037.6M1116.2,986.9h4.4M1116.2,1037.6h4.4M1123.0,986.3V1035.9M1120.8,986.3h4.4M1120.8,1035.9h4.4M1127.6,981.9V1033.9M1125.4,981.9h4.4M1125.4,1033.9h4.4M1132.2,983.6V1032.8M1130.0,983.6h4.4M1130.0,1032.8h4.4M1136.9,984.7V1034.5M1134.7,984.7h4.4M1134.7,1034.5h4.4M1141.5,988.5V1037.9M1139.3,988.5h4.4M1139.3,1037.9h4.4M1146.1,987.4V1033.7M1143.9,987.4h4.4M1143.9,1033.7h4.4M1150.7,983.6V1031.8M1148.5,983.6h4.4M1148.5,1031.8h4.4M1155.3,983.0V1028.4M1153.1,983.0h4.4M1153.1,1028.4h4.4M1160.0,980.3V1026.5M1157.8,980.3h4.4M1157.8,1026.5h4.4M1164.6,983.4V1028.5M1162.4,983.4h4.4M1162.4,1028.5h4.4M1169.2,981.7V1026.6M1167.0,981.7h4.4M1167.0,1026.6h4.4M1173.8,976.5V1023.3M1171.6,976.5h4.4M1171.6,1023.3h4.4M1178.4,980.4V1018.7M1176.2,980.4h4.4M1176.2,1018.7h4.4M1183.1,977.8V1018.1M1180.9,977.8h4.4M1180.9,1018.1h4.4M1187.7,973.5V1018.1M1185.5,973.5h4.4M1185.5,1018.1h4.4M1192.3,972.1V1010.7M1190.1,972.1h4.4M1190.1,1010.7h4.4M1196.9,968.4V1007.4M1194.7,968.4h4.4M1194.7,1007.4h4.4M1201.5,968.1V1006.3M1199.3,968.1h4.4M1199.3,1006.3h4.4M1206.2,962.7V1000.9M1204.0,962.7h4.4M1204.0,1000.9h4.4M1210.8,961.3V1000.7M1208.6,961.3h4.4M1208.6,1000.7h4.4M1215.4,957.1V996.0M1213.2,957.1h4.4M1213.2,996.0h4.4M1220.0,954.2V992.2M1217.8,954.2h4.4M1217.8,992.2h4.4M1224.6,953.7V993.1M1222.4,953.7h4.4M1222.4,993.1h4.4M1229.3,952.4V990.7M1227.1,952.4h4.4M1227.1,990.7h4.4M1233.9,954.9V987.3M1231.7,954.9h4.4M1231.7,987.3h4.4M1238.5,950.9V985.3M1236.3,950.9h4.4M1236.3,985.3h4.4M1243.1,947.8V981.6M1240.9,947.8h4.4M1240.9,981.6h4.4M1247.7,944.2V978.8M1245.5,944.2h4.4M1245.5,978.8h4.4M1252.4,944.8V975.5M1250.2,944.8h4.4M1250.2,975.5h4.4M1257.0,941.2V974.7M1254.8,941.2h4.4M1254.8,974.7h4.4M1261.6,940.4V971.6M1259.4,940.4h4.4M1259.4,971.6h4.4M1266.2,938.8V972.9M1264.0,938.8h4.4M1264.0,972.9h4.4M1270.8,936.4V970.1M1268.6,936.4h4.4M1268.6,970.1h4.4M1275.5,935.5V966.9M1273.3,935.5h4.4M1273.3,966.9h4.4M1280.1,929.3V961.7M1277.9,929.3h4.4M1277.9,961.7h4.4M1284.7,927.9V958.5M1282.5,927.9h4.4M1282.5,958.5h4.4M1289.3,924.6V954.3M1287.1,924.6h4.4M1287.1,954.3h4.4M1293.9,924.7V954.6M1291.7,924.7h4.4M1291.7,954.6h4.4M1298.6,926.0V954.8M1296.4,926.0h4.4M1296.4,954.8h4.4M1303.2,925.3V952.9M1301.0,925.3h4.4M1301.0,952.9h4.4" fill="none" stroke="#a9d5a9" stroke-width="1.2" />
<path d="M888.8,929.0 L890.3,928.9 L891.8,928.8 L893.3,928.8 L894.8,928.7 L896.3,928.6 L897.8,928.5 L899.3,928.4 L900.8,928.4 L902.3,928.3 L903.8,928.2 L905.3,928.1 L906.8,928.1 L908.3,928.0 L909.8,927.9 L911.3,927.9 L912.8,927.8 L914.3,927.8 L915.8,927.7 L917.3,927.6 L918.8,927.6 L920.3,927.5 L921.8,927.5 L923.3,927.5 L924.8,927.4 L926.3,927.4 L927.8,927.4 L929.3,927.4 L930.8,927.3 L932.3,927.3 L933.8,927.3 L935.3,927.3 L936.8,927.3 L938.3,927.3 L939.8,927.3 L941.3,927.3 L942.8,927.3 L944.3,927.4 L945.8,927.4 L947.3,927.4 L948.8,927.5 L950.3,927.5 L951.8,927.6 L953.3,927.6 L954.8,927.7 L956.3,927.7 L957.8,927.8 L959.3,927.8 L960.8,927.9 L962.3,927.9 L963.8,928.0 L965.3,928.0 L966.8,928.1 L968.3,928.1 L969.8,928.1 L971.3,928.1 L972.8,928.2 L974.3,928.1 L975.8,928.1 L977.3,928.1 L978.8,928.0 L980.3,928.0 L981.8,927.9 L983.3,927.8 L984.8,927.7 L986.3,927.6 L987.8,927.4 L989.3,927.3 L990.8,927.1 L992.3,926.9 L993.8,926.6 L995.3,926.4 L996.8,926.1 L998.3,925.8 L999.8,925.5 L1001.3,925.2 L1002.8,924.9 L1004.3,924.5 L1005.8,924.1 L1007.3,923.7 L1008.8,923.2 L1010.3,922.7 L1011.8,922.2 L1013.3,921.7 L1014.8,921.1 L1016.3,920.5 L1017.8,919.9 L1019.3,919.3 L1020.8,918.7 L1022.3,918.0 L1023.8,917.4 L1025.3,916.8 L1026.8,916.2 L1028.3,915.6 L1029.8,915.1 L1031.3,914.5 L1032.8,914.0 L1034.3,913.6 L1035.8,913.1 L1037.3,912.7 L1038.8,912.3 L1040.3,911.9 L1041.8,911.5 L1043.3,911.2 L1044.8,910.8 L1046.3,910.5 L1047.8,910.2 L1049.3,909.9 L1050.8,909.7 L1052.3,909.4 L1053.8,909.2 L1055.3,909.0 L1056.8,908.8 L1058.3,908.7 L1059.8,908.5 L1061.3,908.4 L1062.8,908.3 L1064.3,908.2 L1065.8,908.1 L1067.3,908.0 L1068.8,907.9 L1070.3,907.7 L1071.8,907.6 L1073.3,907.3 L1074.8,907.1 L1076.3,906.8 L1077.8,906.4 L1079.3,906.0 L1080.8,905.5 L1082.3,905.0 L1083.8,904.4 L1085.3,903.9 L1086.8,903.3 L1088.3,902.7 L1089.8,902.1 L1091.3,901.5 L1092.8,901.0 L1094.3,900.4 L1095.8,899.9 L1097.3,899.5 L1098.8,899.1 L1100.3,898.7 L1101.8,898.4 L1103.3,898.2 L1104.8,898.0 L1106.3,897.9 L1107.8,897.9 L1109.3,897.9 L1110.8,898.0 L1112.3,898.0 L1113.8,898.2 L1115.3,898.3 L1116.8,898.4 L1118.3,898.4 L1119.8,898.5 L1121.3,898.5 L1122.8,898.5 L1124.3,898.4 L1125.8,898.3 L1127.3,898.2 L1128.8,898.0 L1130.3,897.8 L1131.8,897.6 L1133.3,897.3 L1134.8,897.0 L1136.3,896.7 L1137.8,896.4 L1139.3,896.1 L1140.8,895.8 L1142.3,895.5 L1143.8,895.2 L1145.3,894.9 L1146.8,894.6 L1148.3,894.3 L1149.8,894.0 L1151.3,893.8 L1152.8,893.6 L1154.3,893.4 L1155.8,893.2 L1157.3,893.1 L1158.8,893.0 L1160.3,892.9 L1161.8,892.8 L1163.3,892.7 L1164.8,892.7 L1166.3,892.7 L1167.8,892.7 L1169.3,892.7 L1170.8,892.8 L1172.3,892.8 L1173.8,892.9 L1175.3,893.0 L1176.8,893.1 L1178.3,893.2 L1179.8,893.2 L1181.3,893.3 L1182.8,893.4 L1184.3,893.5 L1185.8,893.5 L1187.3,893.6 L1188.8,893.6 L1190.3,893.7 L1191.8,893.7 L1193.3,893.7 L1194.8,893.8 L1196.3,893.8 L1197.8,893.9 L1199.3,894.0 L1200.8,894.1 L1202.3,894.2 L1203.8,894.3 L1205.3,894.4 L1206.8,894.6 L1208.3,894.7 L1209.8,894.9 L1211.3,895.0 L1212.8,895.2 L1214.3,895.3 L1215.8,895.5 L1217.3,895.6 L1218.8,895.8 L1220.3,895.9 L1221.8,896.0 L1223.3,896.1 L1224.8,896.2 L1226.3,896.3 L1227.8,896.4 L1229.3,896.4 L1230.8,896.5 L1232.3,896.5 L1233.8,896.5 L1235.3,896.5 L1236.8,896.5 L1238.3,896.4 L1239.8,896.4 L1241.3,896.4 L1242.8,896.3 L1244.3,896.2 L1245.8,896.2 L1247.3,896.1 L1248.8,896.0 L1250.3,896.0 L1251.8,895.9 L1253.3,895.9 L1254.8,895.8 L1256.3,895.7 L1257.8,895.7 L1259.3,895.6 L1260.8,895.5 L1262.3,895.3 L1263.8,895.2 L1265.3,895.0 L1266.8,894.7 L1268.3,894.5 L1269.8,894.2 L1271.3,893.9 L1272.8,893.5 L1274.3,893.2 L1275.8,892.8 L1277.3,892.4 L1278.8,892.0 L1280.3,891.6 L1281.8,891.2 L1283.3,890.8 L1284.8,890.3 L1286.3,889.8 L1287.8,889.3 L1289.3,888.7 L1290.8,888.1 L1292.3,887.5 L1293.8,886.9 L1295.3,886.2 L1296.8,885.6 L1298.3,884.9 L1299.8,884.3 L1301.3,883.6 L1302.8,883.0 L1304.3,882.3" fill="none" stroke="#f22a2a" stroke-width="2.5" stroke-linejoin="round"/>
<path d="M888.8,929.5 L890.3,929.6 L891.8,929.7 L893.3,929.8 L894.8,930.0 L896.3,930.1 L897.8,930.3 L899.3,930.4 L900.8,930.6 L902.3,930.7 L903.8,930.8 L905.3,930.6 L906.8,930.2 L908.3,929.4 L909.8,928.2 L911.3,926.5 L912.8,924.4 L914.3,922.0 L915.8,919.5 L917.3,917.1 L918.8,914.8 L920.3,912.9 L921.8,911.6 L923.3,911.0 L924.8,911.3 L926.3,912.6 L927.8,914.8 L929.3,917.6 L930.8,921.2 L932.3,925.6 L933.8,930.9 L935.3,937.4 L936.8,945.0 L938.3,953.4 L939.8,962.1 L941.3,970.8 L942.8,979.0 L944.3,986.4 L945.8,992.7 L947.3,997.9 L948.8,1002.3 L950.3,1006.0 L951.8,1009.1 L953.3,1011.7 L954.8,1014.1 L956.3,1016.3 L957.8,1018.4 L959.3,1020.4 L960.8,1022.4 L962.3,1024.2 L963.8,1026.0 L965.3,1027.6 L966.8,1029.2 L968.3,1030.7 L969.8,1032.1 L971.3,1033.4 L972.8,1034.7 L974.3,1035.8 L975.8,1036.9 L977.3,1037.9 L978.8,1038.9 L980.3,1039.8 L981.8,1040.6 L983.3,1041.4 L984.8,1042.2 L986.3,1042.9 L987.8,1043.6 L989.3,1044.3 L990.8,1044.9 L992.3,1045.5 L993.8,1046.0 L995.3,1046.5 L996.8,1046.9 L998.3,1047.2 L999.8,1047.4 L1001.3,1047.6 L1002.8,1047.6 L1004.3,1047.5 L1005.8,1047.3 L1007.3,1047.1 L1008.8,1046.7 L1010.3,1046.4 L1011.8,1045.9 L1013.3,1045.5 L1014.8,1045.1 L1016.3,1044.7 L1017.8,1044.3 L1019.3,1043.9 L1020.8,1043.7 L1022.3,1043.5 L1023.8,1043.4 L1025.3,1043.3 L1026.8,1043.3 L1028.3,1043.3 L1029.8,1043.3 L1031.3,1043.2 L1032.8,1043.1 L1034.3,1042.9 L1035.8,1042.6 L1037.3,1042.1 L1038.8,1041.5 L1040.3,1040.9 L1041.8,1040.2 L1043.3,1039.5 L1044.8,1038.8 L1046.3,1038.1 L1047.8,1037.6 L1049.3,1037.1 L1050.8,1036.8 L1052.3,1036.7 L1053.8,1036.6 L1055.3,1036.6 L1056.8,1036.6 L1058.3,1036.7 L1059.8,1036.6 L1061.3,1036.5 L1062.8,1036.3 L1064.3,1035.9 L1065.8,1035.4 L1067.3,1034.6 L1068.8,1033.8 L1070.3,1032.9 L1071.8,1031.9 L1073.3,1030.8 L1074.8,1029.8 L1076.3,1028.7 L1077.8,1027.7 L1079.3,1026.8 L1080.8,1026.0 L1082.3,1025.3 L1083.8,1024.7 L1085.3,1024.3 L1086.8,1024.0 L1088.3,1023.8 L1089.8,1023.7 L1091.3,1023.5 L1092.8,1023.3 L1094.3,1023.1 L1095.8,1022.8 L1097.3,1022.4 L1098.8,1021.9 L1100.3,1021.2 L1101.8,1020.4 L1103.3,1019.5 L1104.8,1018.6 L1106.3,1017.6 L1107.8,1016.6 L1109.3,1015.6 L1110.8,1014.6 L1112.3,1013.6 L1113.8,1012.6 L1115.3,1011.7 L1116.8,1010.9 L1118.3,1010.2 L1119.8,1009.6 L1121.3,1009.2 L1122.8,1008.9 L1124.3,1008.7 L1125.8,1008.7 L1127.3,1008.8 L1128.8,1008.9 L1130.3,1009.2 L1131.8,1009.5 L1133.3,1009.8 L1134.8,1010.1 L1136.3,1010.4 L1137.8,1010.7 L1139.3,1010.9 L1140.8,1011.1 L1142.3,1011.1 L1143.8,1011.0 L1145.3,1010.8 L1146.8,1010.5 L1148.3,1010.0 L1149.8,1009.5 L1151.3,1008.9 L1152.8,1008.2 L1154.3,1007.5 L1155.8,1006.8 L1157.3,1006.2 L1158.8,1005.5 L1160.3,1004.9 L1161.8,1004.3 L1163.3,1003.8 L1164.8,1003.3 L1166.3,1002.9 L1167.8,1002.5 L1169.3,1002.1 L1170.8,1001.7 L1172.3,1001.3 L1173.8,1000.9 L1175.3,1000.4 L1176.8,1000.0 L1178.3,999.5 L1179.8,998.9 L1181.3,998.3 L1182.8,997.6 L1184.3,996.8 L1185.8,996.0 L1187.3,995.1 L1188.8,994.2 L1190.3,993.2 L1191.8,992.3 L1193.3,991.3 L1194.8,990.3 L1196.3,989.3 L1197.8,988.4 L1199.3,987.4 L1200.8,986.5 L1202.3,985.6 L1203.8,984.7 L1205.3,983.8 L1206.8,982.9 L1208.3,982.0 L1209.8,981.0 L1211.3,980.1 L1212.8,979.1 L1214.3,978.1 L1215.8,977.2 L1217.3,976.3 L1218.8,975.4 L1220.3,974.7 L1221.8,974.1 L1223.3,973.6 L1224.8,973.2 L1226.3,972.9 L1227.8,972.7 L1229.3,972.4 L1230.8,972.1 L1232.3,971.7 L1233.8,971.2 L1235.3,970.6 L1236.8,969.8 L1238.3,969.0 L1239.8,968.1 L1241.3,967.1 L1242.8,966.1 L1244.3,965.0 L1245.8,964.0 L1247.3,962.9 L1248.8,961.9 L1250.3,961.0 L1251.8,960.1 L1253.3,959.3 L1254.8,958.6 L1256.3,958.0 L1257.8,957.5 L1259.3,957.1 L1260.8,956.7 L1262.3,956.3 L1263.8,955.8 L1265.3,955.3 L1266.8,954.7 L1268.3,953.9 L1269.8,953.1 L1271.3,952.2 L1272.8,951.2 L1274.3,950.2 L1275.8,949.1 L1277.3,948.1 L1278.8,947.0 L1280.3,946.0 L1281.8,945.0 L1283.3,944.0 L1284.8,943.1 L1286.3,942.3 L1287.8,941.6 L1289.3,941.0 L1290.8,940.5 L1292.3,940.1 L1293.8,939.8 L1295.3,939.7 L1296.8,939.6 L1298.3,939.7 L1299.8,939.8 L1301.3,939.9 L1302.8,940.1 L1304.3,940.3" fill="none" stroke="#1c8c1c" stroke-width="2.5" stroke-linejoin="round"/>
<path d="M882.6,771.5V1112" fill="none" stroke="#5a5a5a" stroke-width="2.2" />
<path d="M876,1110.9H1306.3" fill="none" stroke="#5a5a5a" stroke-width="2.6" />
<path d="M876,772.2H883" fill="none" stroke="#5a5a5a" stroke-width="1.9" />
<path d="M879.3,798.4H883" fill="none" stroke="#5a5a5a" stroke-width="1.5" />
<path d="M876,824.7H883" fill="none" stroke="#5a5a5a" stroke-width="1.9" />
<path d="M879.3,850.9H883" fill="none" stroke="#5a5a5a" stroke-width="1.5" />
<path d="M876,877.1H883" fill="none" stroke="#5a5a5a" stroke-width="1.9" />
<path d="M879.3,903.3H883" fill="none" stroke="#5a5a5a" stroke-width="1.5" />
<path d="M876,929.6H883" fill="none" stroke="#5a5a5a" stroke-width="1.9" />
<path d="M879.3,955.8H883" fill="none" stroke="#5a5a5a" stroke-width="1.5" />
<path d="M876,982.0H883" fill="none" stroke="#5a5a5a" stroke-width="1.9" />
<path d="M879.3,1008.2H883" fill="none" stroke="#5a5a5a" stroke-width="1.5" />
<path d="M876,1034.5H883" fill="none" stroke="#5a5a5a" stroke-width="1.9" />
<path d="M879.3,1060.7H883" fill="none" stroke="#5a5a5a" stroke-width="1.5" />
<path d="M888.8,1110.5V1117.5" fill="none" stroke="#5a5a5a" stroke-width="2" />
<path d="M940.8,1110.5V1114.5" fill="none" stroke="#5a5a5a" stroke-width="1.6" />
<path d="M992.9,1110.5V1117.5" fill="none" stroke="#5a5a5a" stroke-width="2" />
<path d="M1044.9,1110.5V1114.5" fill="none" stroke="#5a5a5a" stroke-width="1.6" />
<path d="M1097.0,1110.5V1117.5" fill="none" stroke="#5a5a5a" stroke-width="2" />
<path d="M1149.0,1110.5V1114.5" fill="none" stroke="#5a5a5a" stroke-width="1.6" />
<path d="M1201.1,1110.5V1117.5" fill="none" stroke="#5a5a5a" stroke-width="2" />
<path d="M1253.1,1110.5V1114.5" fill="none" stroke="#5a5a5a" stroke-width="1.6" />
<path d="M1305.2,1110.5V1117.5" fill="none" stroke="#5a5a5a" stroke-width="2" />
<path d="M876.5,1096.5L890,1089.5M876.5,1102.5L890,1095.5" fill="none" stroke="#5a5a5a" stroke-width="1.5" />
<text transform="translate(814.62,784.11) scale(1.0460,1)" font-family='"Liberation Sans", sans-serif' font-size="39.29" fill="#000">1.3</text>
<text transform="translate(814.60,836.95) scale(1.0373,1)" font-family='"Liberation Sans", sans-serif' font-size="39.86" fill="#000">1.2</text>
<text transform="translate(814.61,889.40) scale(1.0204,1)" font-family='"Liberation Sans", sans-serif' font-size="40.44" fill="#000">1.1</text>
<text transform="translate(849.94,941.85) scale(0.9600,1)" font-family='"Liberation Sans", sans-serif' font-size="40.44" fill="#000">1</text>
<text transform="translate(816.10,993.91) scale(1.0199,1)" font-family='"Liberation Sans", sans-serif' font-size="39.29" fill="#000">0.9</text>
<text transform="translate(816.10,1046.36) scale(1.0180,1)" font-family='"Liberation Sans", sans-serif' font-size="39.29" fill="#000">0.8</text>
<text transform="translate(847.78,1122.10) scale(1.0848,1)" font-family='"Liberation Sans", sans-serif' font-size="39.58" fill="#000">0</text>
<text transform="translate(876.82,1153.10) scale(1.0583,1)" font-family='"Liberation Sans", sans-serif' font-size="39.58" fill="#000">0</text>
<text transform="translate(959.53,1153.10) scale(0.9993,1)" font-family='"Liberation Sans", sans-serif' font-size="39.58" fill="#000">100</text>
<text transform="translate(1062.46,1153.10) scale(1.0315,1)" font-family='"Liberation Sans", sans-serif' font-size="39.58" fill="#000">200</text>
<text transform="translate(1167.99,1153.10) scale(1.0155,1)" font-family='"Liberation Sans", sans-serif' font-size="39.58" fill="#000">300</text>
<text transform="translate(1272.09,1153.10) scale(1.0217,1)" font-family='"Liberation Sans", sans-serif' font-size="39.58" fill="#000">400</text>
<text transform="translate(1162.68,1099.60) scale(1.0700,1)" font-family='"Liberation Sans", sans-serif' font-size="38.07" fill="#000">Time (s)</text>
<text transform="translate(792.71,1149.01) rotate(-90) scale(0.9471,1)" font-family='"Liberation Sans", sans-serif' font-size="42.36" fill="#000">Cytosolic Fluorescence</text>
<text transform="translate(882.13,791.41) scale(1.0526,1)" font-family='"Liberation Sans", sans-serif' font-size="38.78" fill="#000">Bombesin</text>
<path d="M924,800V902" stroke="#111" stroke-width="1.8" fill="none"/><path d="M924,911 L921,900 H927 Z" fill="#111"/>
<path d="M1021.6,812.9H1085.4" fill="none" stroke="#1c8c1c" stroke-width="2.4" />
<path d="M1021.6,852.9H1085.4" fill="none" stroke="#f22a2a" stroke-width="2.4" />
<text transform="translate(1096.10,824.71) scale(1.0721,1)" font-family='"Liberation Sans", sans-serif' font-size="37.53" fill="#000">with Gq</text>
<text transform="translate(1096.10,864.71) scale(1.0725,1)" font-family='"Liberation Sans", sans-serif' font-size="37.53" fill="#000">without Gq</text>
<!-- charts2 -->
<path d="M1621.0,1460.4 L1624.0,1471.3 L1626.9,1502.3 L1629.9,1526.5 L1632.8,1541.1 L1635.8,1551.5 L1638.7,1558.0 L1641.7,1562.0 L1644.6,1563.2 L1647.6,1564.8 L1650.5,1567.4 L1653.5,1566.4 L1656.4,1565.4 L1659.4,1565.8 L1662.3,1566.9 L1665.3,1567.7 L1668.2,1565.7 L1671.2,1566.9 L1674.1,1564.5 L1677.1,1563.7 L1680.0,1564.1 L1683.0,1561.3 L1685.9,1560.3 L1688.9,1554.6 L1691.8,1555.6 L1694.8,1552.1 L1697.7,1548.8 L1700.7,1544.3 L1703.6,1545.5 L1706.6,1543.1 L1709.5,1542.9 L1712.5,1541.2 L1715.4,1535.5 L1718.4,1536.0 L1721.3,1529.8 L1724.3,1530.5 L1727.2,1529.7 L1730.2,1529.5 L1733.1,1524.5 L1736.1,1523.9 L1739.0,1525.3 L1742.0,1519.1 L1744.9,1520.4 L1747.9,1518.8 L1750.8,1519.9 L1753.8,1518.8 L1756.7,1518.3 L1759.7,1516.7 L1762.6,1515.5 L1765.6,1509.6 L1768.5,1510.2 L1771.5,1506.8 L1774.4,1510.6 L1777.4,1511.6 L1780.3,1509.0 L1783.3,1512.1 L1786.2,1510.8 L1789.2,1510.2 L1792.1,1505.6 L1795.1,1503.2 L1798.0,1506.2 L1801.0,1508.6 L1803.9,1510.5 L1806.9,1511.0 L1809.8,1519.5 L1812.8,1524.1 L1815.7,1529.6 L1818.7,1534.4 L1821.6,1534.6 L1824.6,1537.9 L1827.5,1541.8 L1830.5,1545.4 L1833.4,1549.6 L1836.4,1553.5 L1839.3,1552.3 L1842.3,1557.3 L1845.2,1557.1 L1848.2,1559.1 L1851.1,1561.9 L1854.1,1566.0 L1857.0,1564.3 L1860.0,1566.4 L1862.9,1570.5 L1865.9,1571.8 L1868.8,1573.9 L1871.8,1581.2 L1874.7,1579.8 L1877.7,1580.7 L1880.6,1585.3 L1883.6,1582.7 L1886.5,1584.5 L1889.5,1586.3 L1892.4,1587.2 L1895.4,1588.5 L1898.3,1591.0 L1901.3,1591.0 L1904.2,1595.0 L1907.2,1599.1 L1910.1,1597.1 L1913.1,1596.5 L1916.0,1601.7 L1919.0,1598.6 L1921.9,1603.8 L1924.9,1599.1 L1927.8,1600.9 L1930.8,1599.1 L1933.7,1602.0 L1936.7,1596.8 L1939.6,1601.5 L1942.6,1596.6 L1945.5,1601.1 L1948.5,1601.1 L1951.4,1600.9 L1954.4,1602.7 L1957.3,1597.0 L1960.3,1594.1 L1963.2,1599.8 L1966.2,1598.5 L1969.1,1597.8 L1972.1,1595.5 L1972.1,1671.7 L1969.1,1678.6 L1966.2,1675.5 L1963.2,1673.6 L1960.3,1672.4 L1957.3,1676.4 L1954.4,1681.6 L1951.4,1679.3 L1948.5,1678.1 L1945.5,1680.9 L1942.6,1677.1 L1939.6,1677.9 L1936.7,1674.8 L1933.7,1677.6 L1930.8,1676.8 L1927.8,1677.3 L1924.9,1675.1 L1921.9,1679.0 L1919.0,1676.2 L1916.0,1674.3 L1913.1,1674.7 L1910.1,1672.6 L1907.2,1668.2 L1904.2,1669.4 L1901.3,1669.1 L1898.3,1664.9 L1895.4,1662.5 L1892.4,1663.0 L1889.5,1662.7 L1886.5,1657.1 L1883.6,1654.7 L1880.6,1652.9 L1877.7,1656.1 L1874.7,1651.9 L1871.8,1647.2 L1868.8,1647.2 L1865.9,1641.1 L1862.9,1637.5 L1860.0,1639.5 L1857.0,1631.9 L1854.1,1633.8 L1851.1,1630.0 L1848.2,1626.5 L1845.2,1624.4 L1842.3,1621.7 L1839.3,1620.3 L1836.4,1617.2 L1833.4,1610.2 L1830.5,1610.2 L1827.5,1606.2 L1824.6,1601.1 L1821.6,1597.9 L1818.7,1591.0 L1815.7,1590.2 L1812.8,1581.2 L1809.8,1575.4 L1806.9,1571.5 L1803.9,1569.6 L1801.0,1564.2 L1798.0,1562.6 L1795.1,1563.4 L1792.1,1564.4 L1789.2,1566.5 L1786.2,1570.0 L1783.3,1567.9 L1780.3,1566.2 L1777.4,1566.0 L1774.4,1565.2 L1771.5,1566.7 L1768.5,1565.4 L1765.6,1568.2 L1762.6,1569.8 L1759.7,1571.7 L1756.7,1577.9 L1753.8,1574.8 L1750.8,1575.5 L1747.9,1578.9 L1744.9,1580.1 L1742.0,1580.6 L1739.0,1580.1 L1736.1,1585.1 L1733.1,1586.5 L1730.2,1586.3 L1727.2,1586.0 L1724.3,1586.5 L1721.3,1589.5 L1718.4,1590.7 L1715.4,1593.5 L1712.5,1598.6 L1709.5,1601.4 L1706.6,1600.7 L1703.6,1601.7 L1700.7,1603.2 L1697.7,1605.7 L1694.8,1608.7 L1691.8,1611.3 L1688.9,1610.8 L1685.9,1614.5 L1683.0,1617.7 L1680.0,1619.7 L1677.1,1622.7 L1674.1,1622.1 L1671.2,1621.3 L1668.2,1624.0 L1665.3,1620.3 L1662.3,1619.8 L1659.4,1620.0 L1656.4,1613.9 L1653.5,1612.7 L1650.5,1606.9 L1647.6,1600.1 L1644.6,1595.7 L1641.7,1588.8 L1638.7,1578.6 L1635.8,1568.1 L1632.8,1553.1 L1629.9,1534.0 L1626.9,1505.6 L1624.0,1473.2 L1621.0,1460.8Z" fill="#e6f3e6"/>
<path d="M1621.0,1460.4V1460.8M1619.5,1460.4h3M1619.5,1460.8h3M1624.0,1471.3V1473.2M1622.5,1471.3h3M1622.5,1473.2h3M1626.9,1502.3V1505.6M1625.4,1502.3h3M1625.4,1505.6h3M1629.9,1526.5V1534.0M1628.4,1526.5h3M1628.4,1534.0h3M1632.8,1541.1V1553.1M1631.3,1541.1h3M1631.3,1553.1h3M1635.8,1551.5V1568.1M1634.3,1551.5h3M1634.3,1568.1h3M1638.7,1558.0V1578.6M1637.2,1558.0h3M1637.2,1578.6h3M1641.7,1562.0V1588.8M1640.2,1562.0h3M1640.2,1588.8h3M1644.6,1563.2V1595.7M1643.1,1563.2h3M1643.1,1595.7h3M1647.6,1564.8V1600.1M1646.1,1564.8h3M1646.1,1600.1h3M1650.5,1567.4V1606.9M1649.0,1567.4h3M1649.0,1606.9h3M1653.5,1566.4V1612.7M1652.0,1566.4h3M1652.0,1612.7h3M1656.4,1565.4V1613.9M1654.9,1565.4h3M1654.9,1613.9h3M1659.4,1565.8V1620.0M1657.9,1565.8h3M1657.9,1620.0h3M1662.3,1566.9V1619.8M1660.8,1566.9h3M1660.8,1619.8h3M1665.3,1567.7V1620.3M1663.8,1567.7h3M1663.8,1620.3h3M1668.2,1565.7V1624.0M1666.7,1565.7h3M1666.7,1624.0h3M1671.2,1566.9V1621.3M1669.7,1566.9h3M1669.7,1621.3h3M1674.1,1564.5V1622.1M1672.6,1564.5h3M1672.6,1622.1h3M1677.1,1563.7V1622.7M1675.6,1563.7h3M1675.6,1622.7h3M1680.0,1564.1V1619.7M1678.5,1564.1h3M1678.5,1619.7h3M1683.0,1561.3V1617.7M1681.5,1561.3h3M1681.5,1617.7h3M1685.9,1560.3V1614.5M1684.4,1560.3h3M1684.4,1614.5h3M1688.9,1554.6V1610.8M1687.4,1554.6h3M1687.4,1610.8h3M1691.8,1555.6V1611.3M1690.3,1555.6h3M1690.3,1611.3h3M1694.8,1552.1V1608.7M1693.3,1552.1h3M1693.3,1608.7h3M1697.7,1548.8V1605.7M1696.2,1548.8h3M1696.2,1605.7h3M1700.7,1544.3V1603.2M1699.2,1544.3h3M1699.2,1603.2h3M1703.6,1545.5V1601.7M1702.1,1545.5h3M1702.1,1601.7h3M1706.6,1543.1V1600.7M1705.1,1543.1h3M1705.1,1600.7h3M1709.5,1542.9V1601.4M1708.0,1542.9h3M1708.0,1601.4h3M1712.5,1541.2V1598.6M1711.0,1541.2h3M1711.0,1598.6h3M1715.4,1535.5V1593.5M1713.9,1535.5h3M1713.9,1593.5h3M1718.4,1536.0V1590.7M1716.9,1536.0h3M1716.9,1590.7h3M1721.3,1529.8V1589.5M1719.8,1529.8h3M1719.8,1589.5h3M1724.3,1530.5V1586.5M1722.8,1530.5h3M1722.8,1586.5h3M1727.2,1529.7V1586.0M1725.7,1529.7h3M1725.7,1586.0h3M1730.2,1529.5V1586.3M1728.7,1529.5h3M1728.7,1586.3h3M1733.1,1524.5V1586.5M1731.6,1524.5h3M1731.6,1586.5h3M1736.1,1523.9V1585.1M1734.6,1523.9h3M1734.6,1585.1h3M1739.0,1525.3V1580.1M1737.5,1525.3h3M1737.5,1580.1h3M1742.0,1519.1V1580.6M1740.5,1519.1h3M1740.5,1580.6h3M1744.9,1520.4V1580.1M1743.4,1520.4h3M1743.4,1580.1h3M1747.9,1518.8V1578.9M1746.4,1518.8h3M1746.4,1578.9h3M1750.8,1519.9V1575.5M1749.3,1519.9h3M1749.3,1575.5h3M1753.8,1518.8V1574.8M1752.3,1518.8h3M1752.3,1574.8h3M1756.7,1518.3V1577.9M1755.2,1518.3h3M1755.2,1577.9h3M1759.7,1516.7V1571.7M1758.2,1516.7h3M1758.2,1571.7h3M1762.6,1515.5V1569.8M1761.1,1515.5h3M1761.1,1569.8h3M1765.6,1509.6V1568.2M1764.1,1509.6h3M1764.1,1568.2h3M1768.5,1510.2V1565.4M1767.0,1510.2h3M1767.0,1565.4h3M1771.5,1506.8V1566.7M1770.0,1506.8h3M1770.0,1566.7h3M1774.4,1510.6V1565.2M1772.9,1510.6h3M1772.9,1565.2h3M1777.4,1511.6V1566.0M1775.9,1511.6h3M1775.9,1566.0h3M1780.3,1509.0V1566.2M1778.8,1509.0h3M1778.8,1566.2h3M1783.3,1512.1V1567.9M1781.8,1512.1h3M1781.8,1567.9h3M1786.2,1510.8V1570.0M1784.7,1510.8h3M1784.7,1570.0h3M1789.2,1510.2V1566.5M1787.7,1510.2h3M1787.7,1566.5h3M1792.1,1505.6V1564.4M1790.6,1505.6h3M1790.6,1564.4h3M1795.1,1503.2V1563.4M1793.6,1503.2h3M1793.6,1563.4h3M1798.0,1506.2V1562.6M1796.5,1506.2h3M1796.5,1562.6h3M1801.0,1508.6V1564.2M1799.5,1508.6h3M1799.5,1564.2h3M1803.9,1510.5V1569.6M1802.4,1510.5h3M1802.4,1569.6h3M1806.9,1511.0V1571.5M1805.4,1511.0h3M1805.4,1571.5h3M1809.8,1519.5V1575.4M1808.3,1519.5h3M1808.3,1575.4h3M1812.8,1524.1V1581.2M1811.3,1524.1h3M1811.3,1581.2h3M1815.7,1529.6V1590.2M1814.2,1529.6h3M1814.2,1590.2h3M1818.7,1534.4V1591.0M1817.2,1534.4h3M1817.2,1591.0h3M1821.6,1534.6V1597.9M1820.1,1534.6h3M1820.1,1597.9h3M1824.6,1537.9V1601.1M1823.1,1537.9h3M1823.1,1601.1h3M1827.5,1541.8V1606.2M1826.0,1541.8h3M1826.0,1606.2h3M1830.5,1545.4V1610.2M1829.0,1545.4h3M1829.0,1610.2h3M1833.4,1549.6V1610.2M1831.9,1549.6h3M1831.9,1610.2h3M1836.4,1553.5V1617.2M1834.9,1553.5h3M1834.9,1617.2h3M1839.3,1552.3V1620.3M1837.8,1552.3h3M1837.8,1620.3h3M1842.3,1557.3V1621.7M1840.8,1557.3h3M1840.8,1621.7h3M1845.2,1557.1V1624.4M1843.7,1557.1h3M1843.7,1624.4h3M1848.2,1559.1V1626.5M1846.7,1559.1h3M1846.7,1626.5h3M1851.1,1561.9V1630.0M1849.6,1561.9h3M1849.6,1630.0h3M1854.1,1566.0V1633.8M1852.6,1566.0h3M1852.6,1633.8h3M1857.0,1564.3V1631.9M1855.5,1564.3h3M1855.5,1631.9h3M1860.0,1566.4V1639.5M1858.5,1566.4h3M1858.5,1639.5h3M1862.9,1570.5V1637.5M1861.4,1570.5h3M1861.4,1637.5h3M1865.9,1571.8V1641.1M1864.4,1571.8h3M1864.4,1641.1h3M1868.8,1573.9V1647.2M1867.3,1573.9h3M1867.3,1647.2h3M1871.8,1581.2V1647.2M1870.3,1581.2h3M1870.3,1647.2h3M1874.7,1579.8V1651.9M1873.2,1579.8h3M1873.2,1651.9h3M1877.7,1580.7V1656.1M1876.2,1580.7h3M1876.2,1656.1h3M1880.6,1585.3V1652.9M1879.1,1585.3h3M1879.1,1652.9h3M1883.6,1582.7V1654.7M1882.1,1582.7h3M1882.1,1654.7h3M1886.5,1584.5V1657.1M1885.0,1584.5h3M1885.0,1657.1h3M1889.5,1586.3V1662.7M1888.0,1586.3h3M1888.0,1662.7h3M1892.4,1587.2V1663.0M1890.9,1587.2h3M1890.9,1663.0h3M1895.4,1588.5V1662.5M1893.9,1588.5h3M1893.9,1662.5h3M1898.3,1591.0V1664.9M1896.8,1591.0h3M1896.8,1664.9h3M1901.3,1591.0V1669.1M1899.8,1591.0h3M1899.8,1669.1h3M1904.2,1595.0V1669.4M1902.7,1595.0h3M1902.7,1669.4h3M1907.2,1599.1V1668.2M1905.7,1599.1h3M1905.7,1668.2h3M1910.1,1597.1V1672.6M1908.6,1597.1h3M1908.6,1672.6h3M1913.1,1596.5V1674.7M1911.6,1596.5h3M1911.6,1674.7h3M1916.0,1601.7V1674.3M1914.5,1601.7h3M1914.5,1674.3h3M1919.0,1598.6V1676.2M1917.5,1598.6h3M1917.5,1676.2h3M1921.9,1603.8V1679.0M1920.4,1603.8h3M1920.4,1679.0h3M1924.9,1599.1V1675.1M1923.4,1599.1h3M1923.4,1675.1h3M1927.8,1600.9V1677.3M1926.3,1600.9h3M1926.3,1677.3h3M1930.8,1599.1V1676.8M1929.3,1599.1h3M1929.3,1676.8h3M1933.7,1602.0V1677.6M1932.2,1602.0h3M1932.2,1677.6h3M1936.7,1596.8V1674.8M1935.2,1596.8h3M1935.2,1674.8h3M1939.6,1601.5V1677.9M1938.1,1601.5h3M1938.1,1677.9h3M1942.6,1596.6V1677.1M1941.1,1596.6h3M1941.1,1677.1h3M1945.5,1601.1V1680.9M1944.0,1601.1h3M1944.0,1680.9h3M1948.5,1601.1V1678.1M1947.0,1601.1h3M1947.0,1678.1h3M1951.4,1600.9V1679.3M1949.9,1600.9h3M1949.9,1679.3h3M1954.4,1602.7V1681.6M1952.9,1602.7h3M1952.9,1681.6h3M1957.3,1597.0V1676.4M1955.8,1597.0h3M1955.8,1676.4h3M1960.3,1594.1V1672.4M1958.8,1594.1h3M1958.8,1672.4h3M1963.2,1599.8V1673.6M1961.7,1599.8h3M1961.7,1673.6h3M1966.2,1598.5V1675.5M1964.7,1598.5h3M1964.7,1675.5h3M1969.1,1597.8V1678.6M1967.6,1597.8h3M1967.6,1678.6h3M1972.1,1595.5V1671.7M1970.6,1595.5h3M1970.6,1671.7h3" fill="none" stroke="#b3dab3" stroke-width="1.1" />
<path d="M1620.5,1460.0 L1622.5,1462.9 L1624.5,1478.0 L1626.5,1500.2 L1628.5,1518.8 L1630.5,1533.9 L1632.5,1546.8 L1634.5,1554.6 L1636.5,1562.7 L1638.5,1567.8 L1640.5,1572.3 L1642.5,1576.2 L1644.5,1578.7 L1646.5,1582.7 L1648.5,1583.6 L1650.5,1586.1 L1652.5,1587.6 L1654.5,1589.6 L1656.5,1591.1 L1658.5,1593.1 L1660.5,1593.1 L1662.5,1593.3 L1664.5,1594.2 L1666.5,1596.0 L1668.5,1594.1 L1670.5,1595.0 L1672.5,1594.2 L1674.5,1594.3 L1676.5,1593.1 L1678.5,1593.2 L1680.5,1591.8 L1682.5,1590.5 L1684.5,1589.2 L1686.5,1586.7 L1688.5,1584.0 L1690.5,1582.3 L1692.5,1582.5 L1694.5,1580.0 L1696.5,1577.8 L1698.5,1577.9 L1700.5,1575.9 L1702.5,1575.1 L1704.5,1574.4 L1706.5,1572.3 L1708.5,1571.5 L1710.5,1571.5 L1712.5,1568.6 L1714.5,1567.9 L1716.5,1564.3 L1718.5,1563.2 L1720.5,1561.1 L1722.5,1560.1 L1724.5,1558.9 L1726.5,1557.5 L1728.5,1556.2 L1730.5,1555.5 L1732.5,1555.6 L1734.5,1554.8 L1736.5,1552.8 L1738.5,1553.2 L1740.5,1551.2 L1742.5,1550.4 L1744.5,1548.6 L1746.5,1548.1 L1748.5,1547.3 L1750.5,1547.7 L1752.5,1547.3 L1754.5,1547.2 L1756.5,1546.6 L1758.5,1546.4 L1760.5,1545.0 L1762.5,1541.8 L1764.5,1540.5 L1766.5,1538.6 L1768.5,1538.6 L1770.5,1539.0 L1772.5,1537.5 L1774.5,1538.8 L1776.5,1538.0 L1778.5,1537.7 L1780.5,1539.4 L1782.5,1538.7 L1784.5,1538.3 L1786.5,1538.4 L1788.5,1537.2 L1790.5,1536.5 L1792.5,1535.5 L1794.5,1534.5 L1796.5,1534.3 L1798.5,1533.7 L1800.5,1534.3 L1802.5,1536.2 L1804.5,1538.5 L1806.5,1541.6 L1808.5,1544.3 L1810.5,1548.9 L1812.5,1552.3 L1814.5,1556.6 L1816.5,1560.7 L1818.5,1561.8 L1820.5,1564.6 L1822.5,1567.6 L1824.5,1570.7 L1826.5,1573.6 L1828.5,1576.2 L1830.5,1577.7 L1832.5,1581.0 L1834.5,1581.0 L1836.5,1584.5 L1838.5,1585.0 L1840.5,1588.0 L1842.5,1588.0 L1844.5,1591.5 L1846.5,1592.8 L1848.5,1594.8 L1850.5,1595.6 L1852.5,1596.3 L1854.5,1599.4 L1856.5,1600.0 L1858.5,1600.9 L1860.5,1603.7 L1862.5,1605.4 L1864.5,1607.2 L1866.5,1608.5 L1868.5,1610.3 L1870.5,1613.0 L1872.5,1614.4 L1874.5,1615.1 L1876.5,1617.1 L1878.5,1618.9 L1880.5,1620.1 L1882.5,1620.7 L1884.5,1621.7 L1886.5,1622.7 L1888.5,1623.5 L1890.5,1624.5 L1892.5,1626.0 L1894.5,1626.3 L1896.5,1628.5 L1898.5,1629.5 L1900.5,1630.3 L1902.5,1630.1 L1904.5,1631.9 L1906.5,1633.2 L1908.5,1633.6 L1910.5,1636.3 L1912.5,1636.7 L1914.5,1636.9 L1916.5,1637.9 L1918.5,1637.4 L1920.5,1638.0 L1922.5,1639.0 L1924.5,1639.8 L1926.5,1639.8 L1928.5,1638.6 L1930.5,1639.7 L1932.5,1640.0 L1934.5,1639.4 L1936.5,1639.4 L1938.5,1639.2 L1940.5,1637.5 L1942.5,1637.6 L1944.5,1639.0 L1946.5,1641.4 L1948.5,1641.6 L1950.5,1643.3 L1952.5,1642.5 L1954.5,1640.4 L1956.5,1637.7 L1958.5,1633.6 L1960.5,1631.8 L1962.5,1635.0 L1964.5,1638.2 L1966.5,1636.8 L1968.5,1636.9 L1970.5,1637.5 L1972.5,1636.2" fill="none" stroke="#339a33" stroke-width="1.8" stroke-linejoin="round"/>
<path d="M1617.4,1425.8V1719.3" fill="none" stroke="#7d7d7d" stroke-width="2.6" />
<path d="M1610,1718.2H1982" fill="none" stroke="#7d7d7d" stroke-width="2.3" />
<path d="M1610.5,1460.0H1618" fill="none" stroke="#7d7d7d" stroke-width="2" />
<path d="M1614,1425.8H1618" fill="none" stroke="#7d7d7d" stroke-width="1.5" />
<path d="M1610.5,1528.7H1618" fill="none" stroke="#7d7d7d" stroke-width="2" />
<path d="M1614,1494.4H1618" fill="none" stroke="#7d7d7d" stroke-width="1.5" />
<path d="M1610.5,1597.4H1618" fill="none" stroke="#7d7d7d" stroke-width="2" />
<path d="M1614,1563.1H1618" fill="none" stroke="#7d7d7d" stroke-width="1.5" />
<path d="M1610.5,1666.1H1618" fill="none" stroke="#7d7d7d" stroke-width="2" />
<path d="M1614,1631.8H1618" fill="none" stroke="#7d7d7d" stroke-width="1.5" />
<path d="M1614,1700.3H1618" fill="none" stroke="#7d7d7d" stroke-width="1.5" />
<path d="M1618.6,1718V1726.4" fill="none" stroke="#7d7d7d" stroke-width="2" />
<path d="M1692,1718V1723.4" fill="none" stroke="#7d7d7d" stroke-width="1.5" />
<path d="M1765.6,1718V1726.4" fill="none" stroke="#7d7d7d" stroke-width="2" />
<path d="M1839.3,1718V1723.4" fill="none" stroke="#7d7d7d" stroke-width="1.5" />
<path d="M1913,1718V1726.4" fill="none" stroke="#7d7d7d" stroke-width="2" />
<path d="M1611,1708.5L1624,1702.5M1611,1713.5L1624,1707.5" fill="none" stroke="#7d7d7d" stroke-width="1.4" />
<text transform="translate(1557.83,1470.19) scale(1.1454,1)" font-family='"Liberation Sans", sans-serif' font-size="31.10" fill="#000">1.0</text>
<text transform="translate(1559.11,1538.89) scale(1.1191,1)" font-family='"Liberation Sans", sans-serif' font-size="31.10" fill="#000">0.8</text>
<text transform="translate(1559.11,1607.59) scale(1.1191,1)" font-family='"Liberation Sans", sans-serif' font-size="31.10" fill="#000">0.6</text>
<text transform="translate(1559.12,1676.29) scale(1.1064,1)" font-family='"Liberation Sans", sans-serif' font-size="31.10" fill="#000">0.4</text>
<text transform="translate(1540.32,1729.49) scale(1.1007,1)" font-family='"Liberation Sans", sans-serif' font-size="31.38" fill="#000">0.00</text>
<text transform="translate(1608.90,1754.85) scale(1.0059,1)" font-family='"Liberation Sans", sans-serif' font-size="34.77" fill="#000">0</text>
<text transform="translate(1727.96,1754.85) scale(0.9746,1)" font-family='"Liberation Sans", sans-serif' font-size="34.77" fill="#000">1000</text>
<text transform="translate(1873.68,1754.85) scale(0.9915,1)" font-family='"Liberation Sans", sans-serif' font-size="34.77" fill="#000">2000</text>
<text transform="translate(1855.21,1707.01) scale(1.1828,1)" font-family='"Liberation Sans", sans-serif' font-size="29.81" fill="#000">Time (s)</text>
<text transform="translate(1527.21,1767.22) rotate(-90) scale(1.0511,1)" font-family='"Liberation Sans", sans-serif' font-size="32.71" fill="#000">Cytosolic Fluorescence</text>
<text transform="translate(1617.91,1435.80) scale(1.0424,1)" font-family='"Liberation Sans", sans-serif' font-size="26.62" fill="#000">NE</text>
<path d="M1623.6,1437V1448" stroke="#222" stroke-width="1.6" fill="none"/><path d="M1623.6,1455 L1621.0,1446 H1626.1999999999998 Z" fill="#222"/>
<text transform="translate(1738.49,1452.64) scale(1.0871,1)" font-family='"Liberation Sans", sans-serif' font-size="25.71" fill="#000">Bombesin</text>
<path d="M1799.7,1455V1525.7" stroke="#222" stroke-width="1.6" fill="none"/><path d="M1799.7,1532.7 L1797.1000000000001,1523.7 H1802.3 Z" fill="#222"/>
<path d="M1622,1641.8H1683.3" fill="none" stroke="#3aa03a" stroke-width="2" />
<text transform="translate(1692.13,1650.43) scale(1.0434,1)" font-family='"Liberation Sans", sans-serif' font-size="26.53" fill="#000">Akt-PH-Venus</text>
<rect x="60" y="1778.3" width="528.3" height="353.4" fill="#fdfdfd"/>
<path d="M179,1791.7V2125" fill="none" stroke="#7d7d7d" stroke-width="2" />
<path d="M178,2124H590" fill="none" stroke="#7d7d7d" stroke-width="2" />
<path d="M173,1811.7H179" fill="none" stroke="#7d7d7d" stroke-width="1.8" />
<path d="M175.5,1860.3H179" fill="none" stroke="#7d7d7d" stroke-width="1.4" />
<path d="M173,1908.9H179" fill="none" stroke="#7d7d7d" stroke-width="1.8" />
<path d="M175.5,1957.5H179" fill="none" stroke="#7d7d7d" stroke-width="1.4" />
<path d="M173,2006.1H179" fill="none" stroke="#7d7d7d" stroke-width="1.8" />
<path d="M175.5,2054.7H179" fill="none" stroke="#7d7d7d" stroke-width="1.4" />
<path d="M173,2103.3H179" fill="none" stroke="#7d7d7d" stroke-width="1.8" />
<path d="M245.7,2124V2129" fill="none" stroke="#7d7d7d" stroke-width="1.6" />
<path d="M383.3,2124V2129" fill="none" stroke="#7d7d7d" stroke-width="1.6" />
<path d="M520.7,2124V2129" fill="none" stroke="#7d7d7d" stroke-width="1.6" />
<text transform="translate(123.96,1824.11) scale(1.0561,1)" font-family='"Liberation Sans", sans-serif' font-size="38.71" fill="#000">75</text>
<text transform="translate(124.38,1920.92) scale(1.0583,1)" font-family='"Liberation Sans", sans-serif' font-size="38.16" fill="#000">50</text>
<text transform="translate(123.96,2019.12) scale(1.0713,1)" font-family='"Liberation Sans", sans-serif' font-size="38.16" fill="#000">25</text>
<text transform="translate(145.22,2116.12) scale(1.1689,1)" font-family='"Liberation Sans", sans-serif' font-size="38.16" fill="#000">0</text>
<text transform="translate(93.76,2101.62) rotate(-90) scale(1.0797,1)" font-family='"Liberation Sans", sans-serif' font-size="37.32" fill="#000">PIP3 Amount (%)</text>
<path d="M219.5,1866V1957.3M219.5,2021.7V2023.3M209.0,1866h21M209.0,2023.3h21" fill="none" stroke="#555" stroke-width="1.4" />
<rect x="199" y="1957.3" width="41" height="64.40000000000009" fill="#5e9c9e" stroke="#3f7173" stroke-width="1.4"/>
<path d="M199,2011H240" fill="none" stroke="#2c4f50" stroke-width="1.6" />
<circle cx="218.3" cy="1980" r="1.6" fill="#2c4f50"/>
<path d="M356.15,2015.3V2056.7M356.15,2095V2099.3M345.65,2015.3h21M345.65,2099.3h21" fill="none" stroke="#555" stroke-width="1.4" />
<rect x="335" y="2056.7" width="42.30000000000001" height="38.30000000000018" fill="#5e9c9e" stroke="#3f7173" stroke-width="1.4"/>
<path d="M335,2062.7H377.3" fill="none" stroke="#2c4f50" stroke-width="1.6" />
<circle cx="355" cy="2057" r="1.6" fill="#2c4f50"/>
<path d="M493.85,1877.3V1948.3M493.85,1998.3V2045M483.35,1877.3h21M483.35,2045h21" fill="none" stroke="#555" stroke-width="1.4" />
<rect x="472.7" y="1948.3" width="42.30000000000001" height="50.0" fill="#5e9c9e" stroke="#3f7173" stroke-width="1.4"/>
<path d="M472.7,1979.3H515" fill="none" stroke="#2c4f50" stroke-width="1.6" />
<circle cx="493.3" cy="1965.7" r="1.6" fill="#2c4f50"/>
<path d="M276,1831.7 C278,1900 295,1940 295,1982 C295,2030 277,2060 276,2103.3" fill="none" stroke="#444" stroke-width="1.3" />
<path d="M412.7,1900.7 C413,1960 433.5,2010 433.5,2052 C433.5,2075 425,2090 423,2103.3" fill="none" stroke="#444" stroke-width="1.3" />
<path d="M549.3,1831.7 C551,1890 570,1930 570,1968 C570,2020 551,2055 549.3,2103.3" fill="none" stroke="#444" stroke-width="1.3" />
<circle cx="275.9" cy="1865.9" r="2.3" fill="#111"/>
<circle cx="274.2" cy="1884.3" r="2.3" fill="#111"/>
<circle cx="277.5" cy="1957.5" r="2.3" fill="#111"/>
<circle cx="270.5" cy="1975.2" r="2.3" fill="#111"/>
<circle cx="277.5" cy="2006.5" r="2.3" fill="#111"/>
<circle cx="256.5" cy="2015.8" r="2.3" fill="#111"/>
<circle cx="263.2" cy="2022.5" r="2.3" fill="#111"/>
<circle cx="269.9" cy="2022.5" r="2.3" fill="#111"/>
<circle cx="285.9" cy="2022.5" r="2.3" fill="#111"/>
<circle cx="291.5" cy="2023.8" r="2.3" fill="#111"/>
<circle cx="412.5" cy="1939.2" r="2.3" fill="#111"/>
<circle cx="412.5" cy="2015.8" r="2.3" fill="#111"/>
<circle cx="397.1" cy="2057.2" r="2.3" fill="#111"/>
<circle cx="405.8" cy="2057.2" r="2.3" fill="#111"/>
<circle cx="416.5" cy="2064.8" r="2.3" fill="#111"/>
<circle cx="426.4" cy="2060.8" r="2.3" fill="#111"/>
<circle cx="395.8" cy="2074.8" r="2.3" fill="#111"/>
<circle cx="406.5" cy="2099.1" r="2.3" fill="#111"/>
<circle cx="416.5" cy="2095.8" r="2.3" fill="#111"/>
<circle cx="426.4" cy="2095.8" r="2.3" fill="#111"/>
<circle cx="545.7" cy="1878.3" r="2.3" fill="#111"/>
<circle cx="554.7" cy="1876.6" r="2.3" fill="#111"/>
<circle cx="549.7" cy="1948.2" r="2.3" fill="#111"/>
<circle cx="554.7" cy="1949.9" r="2.3" fill="#111"/>
<circle cx="544.0" cy="1970.9" r="2.3" fill="#111"/>
<circle cx="533.7" cy="1988.2" r="2.3" fill="#111"/>
<circle cx="543.0" cy="1990.5" r="2.3" fill="#111"/>
<circle cx="554.7" cy="1998.2" r="2.3" fill="#111"/>
<circle cx="564.7" cy="2015.8" r="2.3" fill="#111"/>
<circle cx="549.0" cy="2045.5" r="2.3" fill="#111"/>
<text transform="translate(235.00,1856.45) rotate(-90) scale(0.9276,1)" font-family='"Liberation Sans", sans-serif' font-size="41.16" fill="#000">NE</text>
<text transform="translate(372.60,2006.80) rotate(-90) scale(1.0123,1)" font-family='"Liberation Sans", sans-serif' font-size="38.07" fill="#000">Adaptation</text>
<text transform="translate(483.30,1946.48) rotate(-90) scale(0.9351,1)" font-family='"Liberation Sans", sans-serif' font-size="41.16" fill="#000">NE +</text>
<text transform="translate(531.62,1946.56) rotate(-90) scale(1.0378,1)" font-family='"Liberation Sans", sans-serif' font-size="38.10" fill="#000">Bombesin</text>
<path d="M700.9,2036.5 L702.1,2027.7 L703.3,2018.4 L704.5,2008.6 L705.7,1998.3 L706.9,1987.0 L708.1,1974.4 L709.3,1961.4 L710.5,1949.3 L711.7,1938.8 L712.9,1929.0 L714.1,1919.7 L715.3,1911.9 L716.5,1906.7 L717.7,1903.9 L718.9,1901.7 L720.1,1900.0 L721.3,1898.5 L722.5,1897.1 L723.7,1895.4 L724.9,1893.2 L726.1,1890.7 L727.3,1887.8 L728.5,1884.5 L729.7,1880.6 L730.9,1875.3 L732.1,1867.9 L733.3,1859.6 L734.5,1851.2 L735.7,1843.9 L736.9,1838.6 L738.1,1833.8 L739.3,1829.1 L740.5,1824.9 L741.7,1821.6 L742.9,1819.5 L744.1,1819.0 L745.3,1819.7 L746.5,1821.3 L747.7,1823.5 L748.9,1826.3 L750.1,1829.4 L751.3,1832.6 L752.5,1836.5 L753.7,1842.0 L754.9,1848.3 L756.1,1854.6 L757.3,1860.1 L758.5,1864.1 L759.7,1867.6 L760.9,1871.0 L762.1,1874.0 L763.3,1876.1 L764.5,1877.2 L765.7,1877.1 L766.9,1876.1 L768.1,1874.7 L769.3,1872.8 L770.5,1870.8 L771.7,1868.8 L772.9,1867.0 L774.1,1865.3 L775.3,1863.3 L776.5,1861.2 L777.7,1859.3 L778.9,1857.7 L780.1,1856.8 L781.3,1856.7 L782.5,1857.6 L783.7,1859.3 L784.9,1861.6 L786.1,1864.1 L787.3,1866.6 L788.5,1868.8 L789.7,1871.1 L790.9,1873.6 L792.1,1876.2 L793.3,1878.6 L794.5,1880.9 L795.7,1882.9 L796.9,1884.4 L798.1,1885.6 L799.3,1886.6 L800.5,1887.6 L801.7,1888.4 L802.9,1889.2 L804.1,1890.0 L805.3,1890.9 L806.5,1891.8 L807.7,1892.8 L808.9,1894.0 L810.1,1895.6 L811.3,1897.4 L812.5,1899.2 L813.7,1901.1 L814.9,1902.7 L816.1,1903.9 L817.3,1904.7 L818.5,1904.9 L819.7,1904.0 L820.9,1902.3 L822.1,1900.0 L823.3,1897.3 L824.5,1894.4 L825.7,1891.6 L826.9,1889.1 L828.1,1886.1 L829.3,1882.6 L830.5,1879.0 L831.7,1875.6 L832.9,1872.6 L834.1,1870.3 L835.3,1869.1 L836.5,1869.1 L837.7,1870.4 L838.9,1872.6 L840.1,1875.4 L841.3,1878.5 L842.5,1881.7 L843.7,1884.6 L844.9,1888.2 L846.1,1892.3 L847.3,1896.6 L848.5,1900.7 L849.7,1904.3 L850.9,1907.2 L852.1,1909.1 L853.3,1910.5 L854.5,1911.7 L855.7,1912.6 L856.9,1913.5 L858.1,1914.4 L859.3,1915.5 L860.5,1916.8 L861.7,1918.6 L862.9,1921.4 L864.1,1925.2 L865.3,1929.6 L866.5,1934.4 L867.7,1939.2 L868.9,1943.6 L870.1,1947.4 L871.3,1951.4 L872.5,1955.6 L873.7,1959.6 L874.9,1963.0 L876.1,1965.4 L877.3,1966.5 L878.5,1966.1 L879.7,1964.8 L880.9,1962.7 L882.1,1960.1 L883.3,1957.1 L884.5,1954.0 L885.7,1950.2 L886.9,1944.7 L888.1,1938.1 L889.3,1931.0 L890.5,1924.1 L891.7,1918.2 L892.9,1913.8 L894.1,1910.9 L895.3,1908.1 L896.5,1905.6 L897.7,1903.7 L898.9,1902.5 L900.1,1902.3 L901.3,1902.8 L902.5,1903.8 L903.7,1905.3 L904.9,1907.2 L906.1,1909.3 L907.3,1911.6 L908.5,1914.1 L909.7,1917.4 L910.9,1921.6 L912.1,1926.5 L913.3,1931.8 L914.5,1937.5 L915.7,1943.1 L916.9,1948.7 L918.1,1954.7 L919.3,1961.2 L920.5,1967.9 L921.7,1974.5 L922.9,1981.0 L924.1,1986.9 L925.3,1992.1 L926.5,1997.1 L927.7,2002.0 L928.9,2006.6 L930.1,2010.9 L931.3,2014.8 L932.5,2018.3 L933.7,2021.3 L934.9,2024.1 L936.1,2026.7 L937.3,2029.1 L938.5,2031.3 L939.7,2033.4 L940.9,2035.2 L942.1,2036.9 L943.3,2038.4 L944.5,2039.9 L945.7,2041.4 L946.9,2042.7 L948.1,2043.8 L949.3,2044.6 L950.5,2044.8 L951.7,2044.6 L952.9,2044.1 L954.1,2043.4 L955.3,2042.4 L956.5,2041.4 L957.7,2040.2 L958.9,2038.9 L960.1,2036.8 L961.3,2034.3 L962.5,2031.5 L963.7,2028.7 L964.9,2026.0 L966.1,2023.7 L967.3,2021.7 L968.5,2019.7 L969.7,2017.7 L970.9,2015.7 L972.1,2013.9 L973.3,2012.4 L974.5,2011.3 L975.7,2010.6 L976.9,2010.6 L978.1,2010.9 L979.3,2011.6 L980.5,2012.5 L981.7,2013.4 L982.9,2014.3 L984.1,2015.1 L985.3,2015.7 L986.5,2015.8 L987.7,2014.8 L988.9,2012.2 L990.1,2008.4 L991.3,2003.9 L992.5,1998.9 L993.7,1993.6 L994.9,1986.5 L996.1,1977.8 L997.3,1968.0 L998.5,1957.6 L999.7,1946.8 L1000.9,1934.7 L1002.1,1920.5 L1003.3,1905.6 L1004.5,1891.3 L1005.7,1879.0 L1006.9,1869.5 L1008.1,1860.4 L1009.3,1851.6 L1010.5,1844.2 L1011.7,1838.9 L1012.9,1836.6 L1014.1,1837.2 L1015.3,1839.0 L1016.5,1841.7 L1017.7,1845.1 L1018.9,1848.8 L1020.1,1852.4 L1021.3,1856.3 L1022.5,1861.3 L1023.7,1866.6 L1024.9,1871.7 L1026.1,1875.8 L1027.3,1879.0 L1028.5,1882.0 L1029.7,1884.7 L1030.9,1886.6 L1032.1,1887.2 L1033.3,1887.2 L1034.5,1886.9 L1035.7,1886.6 L1036.9,1886.1 L1038.1,1885.6 L1039.3,1885.1 L1040.5,1884.5 L1041.7,1883.8 L1042.9,1882.9 L1044.1,1881.9 L1045.3,1880.9 L1046.5,1879.8 L1047.7,1878.7 L1048.9,1877.5 L1050.1,1876.3 L1051.3,1875.0" fill="none" stroke="#55b355" stroke-width="1.7" stroke-linejoin="round"/>
<path d="M701,1778.3V2088.3" fill="none" stroke="#7d7d7d" stroke-width="2" />
<path d="M695,2087.3H1086.7" fill="none" stroke="#7d7d7d" stroke-width="2" />
<path d="M695.5,1806.0H701" fill="none" stroke="#7d7d7d" stroke-width="1.7" />
<path d="M698,1834.1H701" fill="none" stroke="#7d7d7d" stroke-width="1.3" />
<path d="M695.5,1862.3H701" fill="none" stroke="#7d7d7d" stroke-width="1.7" />
<path d="M698,1890.4H701" fill="none" stroke="#7d7d7d" stroke-width="1.3" />
<path d="M695.5,1918.6H701" fill="none" stroke="#7d7d7d" stroke-width="1.7" />
<path d="M698,1946.7H701" fill="none" stroke="#7d7d7d" stroke-width="1.3" />
<path d="M695.5,1974.9H701" fill="none" stroke="#7d7d7d" stroke-width="1.7" />
<path d="M698,2003.0H701" fill="none" stroke="#7d7d7d" stroke-width="1.3" />
<path d="M695.5,2031.2H701" fill="none" stroke="#7d7d7d" stroke-width="1.7" />
<path d="M698,2059.3H701" fill="none" stroke="#7d7d7d" stroke-width="1.3" />
<path d="M698,1777.9H701" fill="none" stroke="#7d7d7d" stroke-width="1.3" />
<path d="M701.0,2087V2093" fill="none" stroke="#7d7d7d" stroke-width="1.7" />
<path d="M742.6,2087V2090.5" fill="none" stroke="#7d7d7d" stroke-width="1.3" />
<path d="M784.3,2087V2093" fill="none" stroke="#7d7d7d" stroke-width="1.7" />
<path d="M826.0,2087V2090.5" fill="none" stroke="#7d7d7d" stroke-width="1.3" />
<path d="M867.6,2087V2093" fill="none" stroke="#7d7d7d" stroke-width="1.7" />
<path d="M909.2,2087V2090.5" fill="none" stroke="#7d7d7d" stroke-width="1.3" />
<path d="M950.9,2087V2093" fill="none" stroke="#7d7d7d" stroke-width="1.7" />
<path d="M992.5,2087V2090.5" fill="none" stroke="#7d7d7d" stroke-width="1.3" />
<path d="M1034.2,2087V2093" fill="none" stroke="#7d7d7d" stroke-width="1.7" />
<path d="M1075.8,2087V2090.5" fill="none" stroke="#7d7d7d" stroke-width="1.3" />
<text transform="translate(670.53,1817.95) scale(1.0446,1)" font-family='"Liberation Sans", sans-serif' font-size="35.27" fill="#000">5</text>
<text transform="translate(671.22,1874.60) scale(0.9685,1)" font-family='"Liberation Sans", sans-serif' font-size="35.78" fill="#000">4</text>
<text transform="translate(670.62,1930.55) scale(1.0596,1)" font-family='"Liberation Sans", sans-serif' font-size="34.77" fill="#000">3</text>
<text transform="translate(670.08,1987.20) scale(1.0905,1)" font-family='"Liberation Sans", sans-serif' font-size="35.27" fill="#000">2</text>
<text transform="translate(670.75,2043.50) scale(0.9600,1)" font-family='"Liberation Sans", sans-serif' font-size="35.78" fill="#000">1</text>
<text transform="translate(669.95,2098.65) scale(1.0964,1)" font-family='"Liberation Sans", sans-serif' font-size="35.34" fill="#000">0</text>
<text transform="translate(689.47,2126.64) scale(1.0717,1)" font-family='"Liberation Sans", sans-serif' font-size="35.76" fill="#000">0</text>
<text transform="translate(753.56,2126.64) scale(1.0078,1)" font-family='"Liberation Sans", sans-serif' font-size="35.76" fill="#000">500</text>
<text transform="translate(831.73,2126.64) scale(0.9595,1)" font-family='"Liberation Sans", sans-serif' font-size="35.76" fill="#000">1000</text>
<text transform="translate(909.98,2126.64) scale(1.0152,1)" font-family='"Liberation Sans", sans-serif' font-size="35.76" fill="#000">1500</text>
<text transform="translate(994.19,2126.64) scale(1.0125,1)" font-family='"Liberation Sans", sans-serif' font-size="35.76" fill="#000">2000</text>
<text transform="translate(659.61,2076.33) rotate(-90) scale(0.9554,1)" font-family='"Liberation Sans", sans-serif' font-size="38.50" fill="#000">PM Fluorescence</text>
<text transform="translate(952.46,2078.56) scale(1.1433,1)" font-family='"Liberation Sans", sans-serif' font-size="32.49" fill="#000">Time (s)</text>
<path d="M715,1790.7H867 M919,1790.7H1055" fill="none" stroke="#555" stroke-width="1.5" />
<path d="M711.7,1790.7l9,-3v6z M1058.3,1790.7l-9,-3v6z" fill="#333"/>
<text transform="translate(868.88,1802.70) scale(1.0367,1)" font-family='"Liberation Sans", sans-serif' font-size="33.02" fill="#000">NE</text>
<path d="M975,1820.5H980.5 M1044,1820.5H1053" fill="none" stroke="#555" stroke-width="1.5" />
<path d="M971.7,1820.5l6,-2.6v5.2z M1056.7,1820.5l-6,-2.6v5.2z" fill="#333"/>
<text transform="translate(980.82,1829.23) scale(1.1164,1)" font-family='"Liberation Sans", sans-serif' font-size="26.95" fill="#000">Bom</text>
<path d="M706,2043.3H746.7" fill="none" stroke="#55b355" stroke-width="1.7" />
<text transform="translate(756.63,2053.02) scale(1.0574,1)" font-family='"Liberation Sans", sans-serif' font-size="28.03" fill="#000">Akt-PH-Venus</text>
<!-- layout -->
<text transform="translate(4.97,39.00) scale(0.9646,1)" font-family='"Liberation Sans", sans-serif' font-size="50.91" font-weight="bold" fill="#000">A</text>
<text transform="translate(340.01,68.42) scale(1.0066,1)" font-family='"Liberation Sans", sans-serif' font-size="48.44" font-weight="bold" fill="#000">Bombesin</text>
<text transform="translate(104.65,255.24) rotate(-90) scale(0.9615,1)" font-family='"Liberation Sans", sans-serif' font-size="49.87" font-weight="bold" fill="#000">YFP-β1</text>
<text transform="translate(105.18,496.45) rotate(-90) scale(0.9288,1)" font-family='"Liberation Sans", sans-serif' font-size="52.24" font-weight="bold" fill="#000">mCh-PH</text>
<text transform="translate(209.72,539.31) scale(1.0088,1)" font-family='"Liberation Sans", sans-serif' font-size="49.19" font-weight="bold" fill="#000">0 s</text>
<text transform="translate(399.57,539.19) scale(1.0201,1)" font-family='"Liberation Sans", sans-serif' font-size="49.01" font-weight="bold" fill="#000">300 s</text>
<rect x="86" y="575" width="1519" height="98.5" fill="#fff" stroke="#000" stroke-width="2.9"/>
<text transform="translate(116.31,646.39) scale(0.9605,1)" font-family='"Liberation Sans", sans-serif' font-size="50.75" font-weight="bold" fill="#000">DNA combination:</text>
<text transform="translate(10.54,734.40) scale(0.9665,1)" font-family='"Liberation Sans", sans-serif' font-size="50.04" font-weight="bold" fill="#000">B</text>
<text transform="translate(399.19,750.33) scale(1.0437,1)" font-family='"Liberation Sans", sans-serif' font-size="46.94" font-weight="bold" fill="#000">Bombesin</text>
<rect x="346.0" y="763.50" width="342.3" height="3" fill="#000"/>
<path d="M323.0,765.0 L347.0,753.0 V777.0 Z" fill="#000"/>
<path d="M711.3,765.0 L687.3,753.0 V777.0 Z" fill="#000"/>
<text transform="translate(112.05,935.94) rotate(-90) scale(0.9564,1)" font-family='"Liberation Sans", sans-serif' font-size="50.83" font-weight="bold" fill="#000">- Gq</text>
<text transform="translate(107.75,1096.20) rotate(-90) scale(1.0489,1)" font-family='"Liberation Sans", sans-serif' font-size="49.39" font-weight="bold" fill="#000">+ Gq</text>
<text transform="translate(173.49,1173.02) scale(1.0467,1)" font-family='"Liberation Sans", sans-serif' font-size="47.92" font-weight="bold" fill="#000">0 s</text>
<text transform="translate(349.94,1173.02) scale(1.0218,1)" font-family='"Liberation Sans", sans-serif' font-size="47.92" font-weight="bold" fill="#000">100 s</text>
<text transform="translate(538.27,1173.02) scale(1.0147,1)" font-family='"Liberation Sans", sans-serif' font-size="47.92" font-weight="bold" fill="#000">400 s</text>
<rect x="86" y="1214" width="1558" height="90" fill="#fff" stroke="#000" stroke-width="2.9"/>
<text transform="translate(116.71,1276.39) scale(0.9595,1)" font-family='"Liberation Sans", sans-serif' font-size="50.75" font-weight="bold" fill="#000">DNA combination:</text>
<text transform="translate(11.36,1387.30) scale(0.9700,1)" font-family='"Liberation Sans", sans-serif' font-size="49.89" font-weight="bold" fill="#000">C</text>
<text transform="translate(772.19,1410.80) scale(1.0261,1)" font-family='"Liberation Sans", sans-serif' font-size="49.16" font-weight="bold" fill="#000">NE</text>
<rect x="415.8" y="1419.60" width="1049.4" height="2.8" fill="#000"/>
<path d="M392.8,1421.0 L416.8,1409.0 V1433.0 Z" fill="#000"/>
<path d="M1488.2,1421.0 L1464.2,1409.0 V1433.0 Z" fill="#000"/>
<text transform="translate(1097.10,1474.43) scale(1.0300,1)" font-family='"Liberation Sans", sans-serif' font-size="47.48" font-weight="bold" fill="#000">Bombesin</text>
<rect x="848.5" y="1499.10" width="619.5" height="2.8" fill="#000"/>
<path d="M825.5,1500.5 L849.5,1488.5 V1512.5 Z" fill="#000"/>
<path d="M1491.0,1500.5 L1467.0,1488.5 V1512.5 Z" fill="#000"/>
<text transform="translate(95.29,1688.23) rotate(-90) scale(0.9637,1)" font-family='"Liberation Sans", sans-serif' font-size="51.02" font-weight="bold" fill="#000">Akt-PH-</text>
<text transform="translate(154.47,1672.17) rotate(-90) scale(0.9226,1)" font-family='"Liberation Sans", sans-serif' font-size="53.05" font-weight="bold" fill="#000">Venus</text>
<text transform="translate(224.98,1701.53) scale(1.0802,1)" font-family='"Liberation Sans", sans-serif' font-size="46.64" font-weight="bold" fill="#000">0 s</text>
<text transform="translate(432.86,1701.53) scale(1.0529,1)" font-family='"Liberation Sans", sans-serif' font-size="46.64" font-weight="bold" fill="#000">400 s</text>
<text transform="translate(638.72,1701.53) scale(1.0572,1)" font-family='"Liberation Sans", sans-serif' font-size="46.64" font-weight="bold" fill="#000">1100 s</text>
<text transform="translate(855.93,1701.53) scale(1.0520,1)" font-family='"Liberation Sans", sans-serif' font-size="46.64" font-weight="bold" fill="#000">1500 s</text>
<text transform="translate(1103.05,1701.53) scale(1.0725,1)" font-family='"Liberation Sans", sans-serif' font-size="46.64" font-weight="bold" fill="#000">2000 s</text>
<text transform="translate(1324.57,1701.42) scale(1.0619,1)" font-family='"Liberation Sans", sans-serif' font-size="46.48" font-weight="bold" fill="#000">2300 s</text>
<text transform="translate(1316.58,1854.00) scale(0.9760,1)" font-family='"Liberation Sans", sans-serif' font-size="51.93" font-weight="bold" fill="#000">NE</text>
<rect x="1156.3" y="1862.50" width="398.0" height="3" fill="#000"/>
<path d="M1133.3,1864.0 L1157.3,1852.0 V1876.0 Z" fill="#000"/>
<path d="M1577.3,1864.0 L1553.3,1852.0 V1876.0 Z" fill="#000"/>
<text transform="translate(1434.99,1923.51) scale(1.0108,1)" font-family='"Liberation Sans", sans-serif' font-size="48.57" font-weight="bold" fill="#000">Bombesin</text>
<rect x="1517.3" y="1941.80" width="40.4" height="3" fill="#000"/>
<path d="M1494.3,1943.3 L1518.3,1931.3 V1955.3 Z" fill="#000"/>
<path d="M1580.7,1943.3 L1556.7,1931.3 V1955.3 Z" fill="#000"/>
<rect x="140" y="2157.5" width="1701.4" height="88.5" fill="#fff" stroke="#000" stroke-width="2.9"/>
<text transform="translate(169.50,2217.59) scale(0.9623,1)" font-family='"Liberation Sans", sans-serif' font-size="50.75" font-weight="bold" fill="#000">DNA combination:</text>
<!-- dna -->
<text transform="translate(559.22,646.40) scale(0.9870,1)" font-family='"Liberation Sans", sans-serif' font-size="50.2">GRPR,</text>
<text transform="translate(731.61,646.40) scale(0.9994,1)" font-family='"Liberation Sans", sans-serif' font-size="50.2">mCh-PH,</text>
<text transform="translate(947.16,646.40) scale(1.0125,1)" font-family='"Liberation Sans", sans-serif' font-size="50.2">YFP-<tspan font-family='"Liberation Serif", serif' font-size="54">β</tspan>1,</text>
<text transform="translate(1144.23,646.40) scale(0.9831,1)" font-family='"Liberation Sans", sans-serif' font-size="50.2">Gαq-CFP,</text>
<text transform="translate(1375.93,646.40) scale(0.9819,1)" font-family='"Liberation Sans", sans-serif' font-size="50.2">Lyn-HTH</text>
<text transform="translate(559.22,1276.30) scale(0.9870,1)" font-family='"Liberation Sans", sans-serif' font-size="50.2">GRPR,</text>
<text transform="translate(728.17,1276.30) scale(1.0014,1)" font-family='"Liberation Sans", sans-serif' font-size="50.2">Akt-PH-Venus,</text>
<text transform="translate(1065.83,1276.30) scale(0.9831,1)" font-family='"Liberation Sans", sans-serif' font-size="50.2">Gαq-CFP,</text>
<text transform="translate(1295.96,1276.30) scale(0.9750,1)" font-family='"Liberation Sans", sans-serif' font-size="50.2">Lyn-HTH</text>
<text transform="translate(612.87,2217.60) scale(0.9975,1)" font-family='"Liberation Sans", sans-serif' font-size="50.2">α2AR-CFP,</text>
<text transform="translate(875.03,2217.60) scale(0.9857,1)" font-family='"Liberation Sans", sans-serif' font-size="50.2">GRPR,</text>
<text transform="translate(1042.67,2217.60) scale(0.9999,1)" font-family='"Liberation Sans", sans-serif' font-size="50.2">Akt-PH-Venus,</text>
<text transform="translate(1380.34,2217.60) scale(0.9817,1)" font-family='"Liberation Sans", sans-serif' font-size="50.2">Gαq-CFP,</text>
<text transform="translate(1608.90,2217.60) scale(0.9908,1)" font-family='"Liberation Sans", sans-serif' font-size="50.2">Lyn-HTH</text>
</svg>
</body></html>
